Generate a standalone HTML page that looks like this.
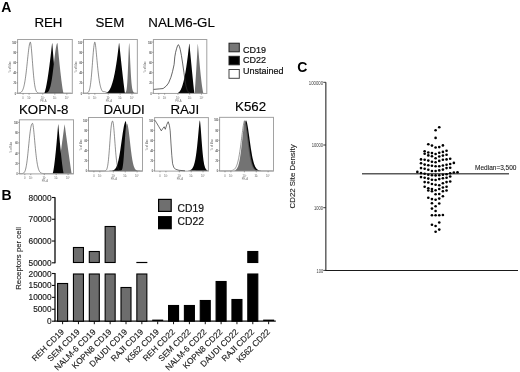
<!DOCTYPE html>
<html><head><meta charset="utf-8"><style>
html,body{margin:0;padding:0;background:#fff;width:520px;height:372px;overflow:hidden}
svg{display:block;font-family:"Liberation Sans", sans-serif;will-change:transform;filter:blur(0.3px)}
</style></head><body>
<svg width="520" height="372" viewBox="0 0 520 372">
<rect width="520" height="372" fill="#fff"/>
<g>
<path d="M18.10,93.15 L18.10,93.15 L18.35,93.15 L18.60,93.15 L18.85,93.15 L19.10,93.15 L19.35,93.15 L19.60,93.15 L19.85,93.15 L20.10,93.15 L20.35,93.15 L20.60,93.15 L20.85,93.15 L21.10,93.15 L21.35,93.15 L21.60,93.15 L21.85,93.15 L22.10,93.15 L22.35,93.15 L22.60,93.15 L22.85,93.15 L23.10,93.15 L23.35,93.15 L23.60,93.15 L23.85,93.15 L24.10,93.15 L24.35,93.15 L24.60,93.15 L24.85,93.15 L25.10,93.15 L25.35,93.15 L25.60,93.15 L25.85,93.15 L26.10,93.15 L26.35,93.15 L26.60,93.15 L26.85,93.15 L27.10,93.15 L27.35,93.15 L27.60,93.15 L27.85,93.15 L28.10,93.15 L28.35,93.15 L28.60,93.15 L28.85,93.15 L29.10,93.15 L29.35,93.15 L29.60,93.15 L29.85,93.15 L30.10,93.15 L30.35,93.15 L30.60,93.15 L30.85,93.15 L31.10,93.15 L31.35,93.15 L31.60,93.15 L31.85,93.15 L32.10,93.15 L32.35,93.15 L32.60,93.15 L32.85,93.15 L33.10,93.15 L33.35,93.15 L33.60,93.15 L33.85,93.15 L34.10,93.15 L34.35,93.15 L34.60,93.15 L34.85,93.15 L35.10,93.15 L35.35,93.15 L35.60,93.15 L35.85,93.15 L36.10,93.15 L36.35,93.15 L36.60,93.15 L36.85,93.15 L37.10,93.15 L37.35,93.15 L37.60,93.15 L37.85,93.15 L38.10,93.15 L38.35,93.15 L38.60,93.15 L38.85,93.15 L39.10,93.15 L39.35,93.15 L39.60,93.15 L39.85,93.15 L40.10,93.15 L40.35,93.15 L40.60,93.15 L40.85,93.15 L41.10,93.15 L41.35,93.15 L41.60,93.15 L41.85,93.15 L42.10,93.15 L42.35,93.15 L42.60,93.15 L42.85,93.15 L43.10,93.15 L43.35,93.15 L43.60,93.15 L43.85,93.15 L44.10,93.15 L44.35,92.99 L44.60,92.49 L44.85,91.81 L45.10,91.00 L45.35,90.08 L45.60,89.07 L45.85,87.98 L46.10,86.80 L46.35,85.55 L46.60,84.24 L46.85,82.86 L47.10,81.43 L47.35,79.94 L47.60,78.39 L47.85,76.79 L48.10,75.14 L48.35,73.44 L48.60,71.70 L48.85,69.91 L49.10,68.07 L49.35,66.20 L49.60,64.28 L49.85,62.32 L50.10,60.32 L50.35,58.29 L50.60,56.21 L50.85,54.10 L51.10,51.95 L51.35,49.77 L51.60,47.56 L51.85,45.31 L52.10,43.02 L52.35,44.08 L52.60,47.34 L52.85,50.55 L53.10,53.71 L53.35,56.81 L53.60,59.84 L53.85,62.82 L54.10,65.73 L54.35,68.57 L54.60,71.33 L54.85,74.02 L55.10,76.62 L55.35,79.13 L55.60,81.54 L55.85,83.84 L56.10,86.02 L56.35,88.05 L56.60,89.91 L56.85,91.54 L57.10,92.83 L57.35,93.15 L57.60,93.15 L57.85,93.15 L58.10,93.15 L58.35,93.15 L58.60,93.15 L58.85,93.15 L59.10,93.15 L59.35,93.15 L59.60,93.15 L59.85,93.15 L60.10,93.15 L60.35,93.15 L60.60,93.15 L60.85,93.15 L61.10,93.15 L61.35,93.15 L61.60,93.15 L61.85,93.15 L62.10,93.15 L62.35,93.15 L62.60,93.15 L62.85,93.15 L63.10,93.15 L63.35,93.15 L63.60,93.15 L63.85,93.15 L64.10,93.15 L64.35,93.15 L64.60,93.15 L64.85,93.15 L65.10,93.15 L65.35,93.15 L65.60,93.15 L65.85,93.15 L66.10,93.15 L66.35,93.15 L66.60,93.15 L66.85,93.15 L67.10,93.15 L67.35,93.15 L67.60,93.15 L67.85,93.15 L68.10,93.15 L68.35,93.15 L68.60,93.15 L68.85,93.15 L69.10,93.15 L69.35,93.15 L69.60,93.15 L69.85,93.15 L70.10,93.15 L70.35,93.15 L70.60,93.15 L70.85,93.15 L71.10,93.15 L71.35,93.15 L71.60,93.15 L71.60,93.15 Z" fill="#050505" stroke="none" stroke-width="0"/>
<path d="M18.10,93.15 L18.10,93.15 L18.35,93.15 L18.60,93.15 L18.85,93.15 L19.10,93.15 L19.35,93.15 L19.60,93.15 L19.85,93.15 L20.10,93.15 L20.35,93.15 L20.60,93.15 L20.85,93.15 L21.10,93.15 L21.35,93.15 L21.60,93.15 L21.85,93.15 L22.10,93.15 L22.35,93.15 L22.60,93.15 L22.85,93.15 L23.10,93.15 L23.35,93.15 L23.60,93.15 L23.85,93.15 L24.10,93.15 L24.35,93.15 L24.60,93.15 L24.85,93.15 L25.10,93.15 L25.35,93.15 L25.60,93.15 L25.85,93.15 L26.10,93.15 L26.35,93.15 L26.60,93.15 L26.85,93.15 L27.10,93.15 L27.35,93.15 L27.60,93.15 L27.85,93.15 L28.10,93.15 L28.35,93.15 L28.60,93.15 L28.85,93.15 L29.10,93.15 L29.35,93.15 L29.60,93.15 L29.85,93.15 L30.10,93.15 L30.35,93.15 L30.60,93.15 L30.85,93.15 L31.10,93.15 L31.35,93.15 L31.60,93.15 L31.85,93.15 L32.10,93.15 L32.35,93.15 L32.60,93.15 L32.85,93.15 L33.10,93.15 L33.35,93.15 L33.60,93.15 L33.85,93.15 L34.10,93.15 L34.35,93.15 L34.60,93.15 L34.85,93.15 L35.10,93.15 L35.35,93.15 L35.60,93.15 L35.85,93.15 L36.10,93.15 L36.35,93.15 L36.60,93.15 L36.85,93.15 L37.10,93.15 L37.35,93.15 L37.60,93.15 L37.85,93.15 L38.10,93.15 L38.35,93.15 L38.60,93.15 L38.85,93.15 L39.10,93.15 L39.35,93.15 L39.60,93.15 L39.85,93.15 L40.10,93.15 L40.35,93.15 L40.60,93.15 L40.85,93.15 L41.10,93.15 L41.35,93.15 L41.60,93.15 L41.85,93.15 L42.10,93.15 L42.35,93.14 L42.60,93.14 L42.85,93.14 L43.10,93.14 L43.35,93.13 L43.60,93.13 L43.85,93.12 L44.10,93.11 L44.35,93.10 L44.60,93.09 L44.85,93.07 L45.10,93.04 L45.35,93.01 L45.60,92.98 L45.85,92.93 L46.10,92.87 L46.35,92.80 L46.60,92.72 L46.85,92.61 L47.10,92.49 L47.35,92.33 L47.60,92.15 L47.85,91.94 L48.10,91.68 L48.35,91.38 L48.60,91.03 L48.85,90.63 L49.10,90.16 L49.35,89.62 L49.60,89.01 L49.85,88.31 L50.10,87.52 L50.35,86.64 L50.60,85.66 L50.85,84.58 L51.10,83.38 L51.35,82.07 L51.60,80.66 L51.85,79.13 L52.10,77.49 L52.35,75.74 L52.60,73.90 L52.85,71.98 L53.10,69.97 L53.35,67.90 L53.60,65.78 L53.85,63.64 L54.10,61.48 L54.35,59.34 L54.60,57.23 L54.85,55.18 L55.10,53.21 L55.35,51.35 L55.60,49.63 L55.85,48.05 L56.10,46.66 L56.35,45.46 L56.60,44.47 L56.85,43.71 L57.10,43.19 L57.35,42.91 L57.60,43.95 L57.85,46.65 L58.10,49.30 L58.35,51.92 L58.60,54.51 L58.85,57.05 L59.10,59.55 L59.35,62.01 L59.60,64.43 L59.85,66.80 L60.10,69.12 L60.35,71.39 L60.60,73.61 L60.85,75.77 L61.10,77.87 L61.35,79.91 L61.60,81.87 L61.85,83.76 L62.10,85.57 L62.35,87.28 L62.60,88.88 L62.85,90.35 L63.10,91.66 L63.35,92.73 L63.60,93.15 L63.85,93.15 L64.10,93.15 L64.35,93.15 L64.60,93.15 L64.85,93.15 L65.10,93.15 L65.35,93.15 L65.60,93.15 L65.85,93.15 L66.10,93.15 L66.35,93.15 L66.60,93.15 L66.85,93.15 L67.10,93.15 L67.35,93.15 L67.60,93.15 L67.85,93.15 L68.10,93.15 L68.35,93.15 L68.60,93.15 L68.85,93.15 L69.10,93.15 L69.35,93.15 L69.60,93.15 L69.85,93.15 L70.10,93.15 L70.35,93.15 L70.60,93.15 L70.85,93.15 L71.10,93.15 L71.35,93.15 L71.60,93.15 L71.60,93.15 Z" fill="#737373" stroke="none" stroke-width="0"/>
<path d="M18.10,93.09 L18.35,93.07 L18.60,93.05 L18.85,93.02 L19.10,92.98 L19.35,92.94 L19.60,92.89 L19.85,92.82 L20.10,92.74 L20.35,92.64 L20.60,92.52 L20.85,92.37 L21.10,92.19 L21.35,91.98 L21.60,91.73 L21.85,91.44 L22.10,91.09 L22.35,90.69 L22.60,90.21 L22.85,89.67 L23.10,89.04 L23.35,88.33 L23.60,87.52 L23.85,86.61 L24.10,85.58 L24.35,84.44 L24.60,83.17 L24.85,81.78 L25.10,80.26 L25.35,78.60 L25.60,76.83 L25.85,74.92 L26.10,72.91 L26.35,70.78 L26.60,68.56 L26.85,66.27 L27.10,63.92 L27.35,61.54 L27.60,59.16 L27.85,56.79 L28.10,54.48 L28.35,52.26 L28.60,50.17 L28.85,48.23 L29.10,46.49 L29.35,44.99 L29.60,43.76 L29.85,42.84 L30.10,42.26 L30.35,42.12 L30.60,42.73 L30.85,44.03 L31.10,45.89 L31.35,48.24 L31.60,50.96 L31.85,53.96 L32.10,57.14 L32.35,60.42 L32.60,63.71 L32.85,66.95 L33.10,70.07 L33.35,73.02 L33.60,75.77 L33.85,78.29 L34.10,80.57 L34.35,82.61 L34.60,84.39 L34.85,85.95 L35.10,87.28 L35.35,88.41 L35.60,89.36 L35.85,90.15 L36.10,90.79 L36.35,91.32 L36.60,91.74 L36.85,92.07 L37.10,92.33 L37.35,92.54 L37.60,92.69 L37.85,92.81 L38.10,92.90 L38.35,92.97 L38.60,93.02 L38.85,93.06 L39.10,93.09 L39.35,93.11 L39.60,93.12 L39.85,93.13 L40.10,93.14 L40.35,93.14 L40.60,93.14 L40.85,93.15 L41.10,93.15 L41.35,93.15 L41.60,93.15 L41.85,93.15 L42.10,93.15 L42.35,93.15 L42.60,93.15 L42.85,93.15 L43.10,93.15 L43.35,93.15 L43.60,93.15 L43.85,93.15 L44.10,93.15 L44.35,93.15 L44.60,93.15 L44.85,93.15 L45.10,93.15 L45.35,93.15 L45.60,93.15 L45.85,93.15 L46.10,93.15 L46.35,93.15 L46.60,93.15 L46.85,93.15 L47.10,93.15 L47.35,93.15 L47.60,93.15 L47.85,93.15 L48.10,93.15 L48.35,93.15 L48.60,93.15 L48.85,93.15 L49.10,93.15 L49.35,93.15 L49.60,93.15 L49.85,93.15 L50.10,93.15 L50.35,93.15 L50.60,93.15 L50.85,93.15 L51.10,93.15 L51.35,93.15 L51.60,93.15 L51.85,93.15 L52.10,93.15 L52.35,93.15 L52.60,93.15 L52.85,93.15 L53.10,93.15 L53.35,93.15 L53.60,93.15 L53.85,93.15 L54.10,93.15 L54.35,93.15 L54.60,93.15 L54.85,93.15 L55.10,93.15 L55.35,93.15 L55.60,93.15 L55.85,93.15 L56.10,93.15 L56.35,93.15 L56.60,93.15 L56.85,93.15 L57.10,93.15 L57.35,93.15 L57.60,93.15 L57.85,93.15 L58.10,93.15 L58.35,93.15 L58.60,93.15 L58.85,93.15 L59.10,93.15 L59.35,93.15 L59.60,93.15 L59.85,93.15 L60.10,93.15 L60.35,93.15 L60.60,93.15 L60.85,93.15 L61.10,93.15 L61.35,93.15 L61.60,93.15 L61.85,93.15 L62.10,93.15 L62.35,93.15 L62.60,93.15 L62.85,93.15 L63.10,93.15 L63.35,93.15 L63.60,93.15 L63.85,93.15 L64.10,93.15 L64.35,93.15 L64.60,93.15 L64.85,93.15 L65.10,93.15 L65.35,93.15 L65.60,93.15 L65.85,93.15 L66.10,93.15 L66.35,93.15 L66.60,93.15 L66.85,93.15 L67.10,93.15 L67.35,93.15 L67.60,93.15 L67.85,93.15 L68.10,93.15 L68.35,93.15 L68.60,93.15 L68.85,93.15 L69.10,93.15 L69.35,93.15 L69.60,93.15 L69.85,93.15 L70.10,93.15 L70.35,93.15 L70.60,93.15 L70.85,93.15 L71.10,93.15 L71.35,93.15 L71.60,93.15" fill="none" stroke="#333333" stroke-width="0.55" stroke-linejoin="round"/>
<rect x="17.60" y="39.50" width="54.70" height="53.95" fill="none" stroke="#a2a2a2" stroke-width="1"/>
<line x1="16.30" y1="93.15" x2="17.60" y2="93.15" stroke="#666" stroke-width="0.6"/>
<text x="16.10" y="94.65" font-size="2.7" fill="#555" stroke="#555" stroke-width="0.08" text-anchor="end" textLength="1.3" lengthAdjust="spacingAndGlyphs">0</text>
<line x1="16.30" y1="82.94" x2="17.60" y2="82.94" stroke="#666" stroke-width="0.6"/>
<text x="16.10" y="84.44" font-size="2.7" fill="#555" stroke="#555" stroke-width="0.08" text-anchor="end" textLength="2.6" lengthAdjust="spacingAndGlyphs">20</text>
<line x1="16.30" y1="72.73" x2="17.60" y2="72.73" stroke="#666" stroke-width="0.6"/>
<text x="16.10" y="74.23" font-size="2.7" fill="#555" stroke="#555" stroke-width="0.08" text-anchor="end" textLength="2.6" lengthAdjust="spacingAndGlyphs">40</text>
<line x1="16.30" y1="62.52" x2="17.60" y2="62.52" stroke="#666" stroke-width="0.6"/>
<text x="16.10" y="64.02" font-size="2.7" fill="#555" stroke="#555" stroke-width="0.08" text-anchor="end" textLength="2.6" lengthAdjust="spacingAndGlyphs">60</text>
<line x1="16.30" y1="52.31" x2="17.60" y2="52.31" stroke="#666" stroke-width="0.6"/>
<text x="16.10" y="53.81" font-size="2.7" fill="#555" stroke="#555" stroke-width="0.08" text-anchor="end" textLength="2.6" lengthAdjust="spacingAndGlyphs">80</text>
<line x1="16.30" y1="42.10" x2="17.60" y2="42.10" stroke="#666" stroke-width="0.6"/>
<text x="16.10" y="43.60" font-size="2.7" fill="#555" stroke="#555" stroke-width="0.08" text-anchor="end" textLength="3.9" lengthAdjust="spacingAndGlyphs">100</text>
<text transform="translate(10.60,66.97) rotate(-90)" font-size="2.6" fill="#555" text-anchor="middle">% of Max</text>
<line x1="23.07" y1="93.45" x2="23.07" y2="94.65" stroke="#666" stroke-width="0.6"/>
<text x="23.07" y="98.85" font-size="2.6" fill="#666" text-anchor="middle">0</text>
<line x1="29.09" y1="93.45" x2="29.09" y2="94.65" stroke="#666" stroke-width="0.6"/>
<text x="29.09" y="98.85" font-size="2.6" fill="#666" text-anchor="middle">10¹</text>
<line x1="42.76" y1="93.45" x2="42.76" y2="94.65" stroke="#666" stroke-width="0.6"/>
<text x="42.76" y="98.85" font-size="2.6" fill="#666" text-anchor="middle">10²</text>
<line x1="54.80" y1="93.45" x2="54.80" y2="94.65" stroke="#666" stroke-width="0.6"/>
<text x="54.80" y="98.85" font-size="2.6" fill="#666" text-anchor="middle">10³</text>
<line x1="66.83" y1="93.45" x2="66.83" y2="94.65" stroke="#666" stroke-width="0.6"/>
<text x="66.83" y="98.85" font-size="2.6" fill="#666" text-anchor="middle">10⁴</text>
<text x="43.31" y="101.95" font-size="2.7" fill="#777" text-anchor="middle">PE-A</text>
</g>
<g>
<path d="M84.00,93.15 L84.00,93.15 L84.25,93.15 L84.50,93.15 L84.75,93.15 L85.00,93.15 L85.25,93.15 L85.50,93.15 L85.75,93.15 L86.00,93.15 L86.25,93.15 L86.50,93.15 L86.75,93.15 L87.00,93.15 L87.25,93.15 L87.50,93.15 L87.75,93.15 L88.00,93.15 L88.25,93.15 L88.50,93.15 L88.75,93.15 L89.00,93.15 L89.25,93.15 L89.50,93.15 L89.75,93.15 L90.00,93.15 L90.25,93.15 L90.50,93.15 L90.75,93.15 L91.00,93.15 L91.25,93.15 L91.50,93.15 L91.75,93.15 L92.00,93.15 L92.25,93.15 L92.50,93.15 L92.75,93.15 L93.00,93.15 L93.25,93.15 L93.50,93.15 L93.75,93.15 L94.00,93.15 L94.25,93.15 L94.50,93.15 L94.75,93.15 L95.00,93.15 L95.25,93.15 L95.50,93.15 L95.75,93.15 L96.00,93.15 L96.25,93.15 L96.50,93.15 L96.75,93.15 L97.00,93.15 L97.25,93.15 L97.50,93.15 L97.75,93.15 L98.00,93.15 L98.25,93.15 L98.50,93.15 L98.75,93.15 L99.00,93.15 L99.25,93.15 L99.50,93.15 L99.75,93.15 L100.00,93.15 L100.25,93.15 L100.50,93.15 L100.75,93.15 L101.00,93.15 L101.25,93.15 L101.50,93.15 L101.75,93.15 L102.00,93.15 L102.25,93.15 L102.50,93.15 L102.75,93.15 L103.00,93.15 L103.25,93.15 L103.50,93.15 L103.75,93.15 L104.00,93.15 L104.25,93.15 L104.50,93.15 L104.75,93.14 L105.00,93.12 L105.25,93.10 L105.50,93.07 L105.75,93.02 L106.00,92.96 L106.25,92.88 L106.50,92.79 L106.75,92.68 L107.00,92.55 L107.25,92.39 L107.50,92.22 L107.75,92.03 L108.00,91.81 L108.25,91.56 L108.50,91.29 L108.75,90.99 L109.00,90.66 L109.25,90.30 L109.50,89.91 L109.75,89.49 L110.00,89.04 L110.25,88.55 L110.50,88.03 L110.75,87.47 L111.00,86.88 L111.25,86.24 L111.50,85.57 L111.75,84.86 L112.00,84.11 L112.25,83.32 L112.50,82.48 L112.75,81.60 L113.00,80.68 L113.25,79.71 L113.50,78.70 L113.75,77.63 L114.00,76.52 L114.25,75.37 L114.50,74.16 L114.75,72.90 L115.00,71.59 L115.25,70.23 L115.50,68.82 L115.75,67.35 L116.00,65.83 L116.25,64.25 L116.50,62.62 L116.75,60.92 L117.00,59.18 L117.25,57.37 L117.50,55.50 L117.75,53.58 L118.00,51.59 L118.25,49.54 L118.50,47.43 L118.75,45.25 L119.00,43.01 L119.25,43.55 L119.50,45.96 L119.75,48.36 L120.00,50.74 L120.25,53.12 L120.50,55.48 L120.75,57.83 L121.00,60.16 L121.25,62.48 L121.50,64.78 L121.75,67.07 L122.00,69.33 L122.25,71.58 L122.50,73.81 L122.75,76.01 L123.00,78.19 L123.25,80.34 L123.50,82.46 L123.75,84.54 L124.00,86.58 L124.25,88.55 L124.50,90.46 L124.75,92.23 L125.00,93.15 L125.25,93.15 L125.50,93.15 L125.75,93.15 L126.00,93.15 L126.25,93.15 L126.50,93.15 L126.75,93.15 L127.00,93.15 L127.25,93.15 L127.50,93.15 L127.75,93.15 L128.00,93.15 L128.25,93.15 L128.50,93.15 L128.75,93.15 L129.00,93.15 L129.25,93.15 L129.50,93.15 L129.75,93.15 L130.00,93.15 L130.25,93.15 L130.50,93.15 L130.75,93.15 L131.00,93.15 L131.25,93.15 L131.50,93.15 L131.75,93.15 L132.00,93.15 L132.25,93.15 L132.50,93.15 L132.75,93.15 L133.00,93.15 L133.25,93.15 L133.50,93.15 L133.75,93.15 L134.00,93.15 L134.25,93.15 L134.50,93.15 L134.75,93.15 L135.00,93.15 L135.25,93.15 L135.50,93.15 L135.75,93.15 L136.00,93.15 L136.25,93.15 L136.50,93.15 L136.75,93.15 L136.75,93.15 Z" fill="#050505" stroke="none" stroke-width="0"/>
<path d="M84.00,93.15 L84.00,93.15 L84.25,93.15 L84.50,93.15 L84.75,93.15 L85.00,93.15 L85.25,93.15 L85.50,93.15 L85.75,93.15 L86.00,93.15 L86.25,93.15 L86.50,93.15 L86.75,93.15 L87.00,93.15 L87.25,93.15 L87.50,93.15 L87.75,93.15 L88.00,93.15 L88.25,93.15 L88.50,93.15 L88.75,93.15 L89.00,93.15 L89.25,93.15 L89.50,93.15 L89.75,93.15 L90.00,93.15 L90.25,93.15 L90.50,93.15 L90.75,93.15 L91.00,93.15 L91.25,93.15 L91.50,93.15 L91.75,93.15 L92.00,93.15 L92.25,93.15 L92.50,93.15 L92.75,93.15 L93.00,93.15 L93.25,93.15 L93.50,93.15 L93.75,93.15 L94.00,93.15 L94.25,93.15 L94.50,93.15 L94.75,93.15 L95.00,93.15 L95.25,93.15 L95.50,93.15 L95.75,93.15 L96.00,93.15 L96.25,93.15 L96.50,93.15 L96.75,93.15 L97.00,93.15 L97.25,93.15 L97.50,93.15 L97.75,93.15 L98.00,93.15 L98.25,93.15 L98.50,93.15 L98.75,93.15 L99.00,93.15 L99.25,93.15 L99.50,93.15 L99.75,93.15 L100.00,93.15 L100.25,93.15 L100.50,93.15 L100.75,93.15 L101.00,93.15 L101.25,93.15 L101.50,93.15 L101.75,93.15 L102.00,93.15 L102.25,93.15 L102.50,93.15 L102.75,93.15 L103.00,93.15 L103.25,93.15 L103.50,93.15 L103.75,93.15 L104.00,93.15 L104.25,93.15 L104.50,93.15 L104.75,93.15 L105.00,93.15 L105.25,93.15 L105.50,93.15 L105.75,93.15 L106.00,93.15 L106.25,93.15 L106.50,93.15 L106.75,93.15 L107.00,93.15 L107.25,93.15 L107.50,93.15 L107.75,93.15 L108.00,93.15 L108.25,93.15 L108.50,93.15 L108.75,93.15 L109.00,93.15 L109.25,93.15 L109.50,93.15 L109.75,93.15 L110.00,93.15 L110.25,93.15 L110.50,93.15 L110.75,93.15 L111.00,93.15 L111.25,93.15 L111.50,93.15 L111.75,93.15 L112.00,93.15 L112.25,93.15 L112.50,93.15 L112.75,93.15 L113.00,93.15 L113.25,93.15 L113.50,93.15 L113.75,93.15 L114.00,93.15 L114.25,93.15 L114.50,93.15 L114.75,93.15 L115.00,93.15 L115.25,93.15 L115.50,93.15 L115.75,93.15 L116.00,93.15 L116.25,93.15 L116.50,93.15 L116.75,93.15 L117.00,93.15 L117.25,93.15 L117.50,93.15 L117.75,93.15 L118.00,93.15 L118.25,93.15 L118.50,93.15 L118.75,93.15 L119.00,93.15 L119.25,93.15 L119.50,93.15 L119.75,93.15 L120.00,93.15 L120.25,93.15 L120.50,93.15 L120.75,93.15 L121.00,93.15 L121.25,93.15 L121.50,93.15 L121.75,93.15 L122.00,93.15 L122.25,93.15 L122.50,93.15 L122.75,93.15 L123.00,93.15 L123.25,93.15 L123.50,93.15 L123.75,93.14 L124.00,93.14 L124.25,93.13 L124.50,93.11 L124.75,93.07 L125.00,93.00 L125.25,92.88 L125.50,92.69 L125.75,92.37 L126.00,91.86 L126.25,91.08 L126.50,89.91 L126.75,88.23 L127.00,85.88 L127.25,82.74 L127.50,78.69 L127.75,73.70 L128.00,67.85 L128.25,61.41 L128.50,54.83 L128.75,48.80 L129.00,44.25 L129.25,42.90 L129.50,46.50 L129.75,51.58 L130.00,57.14 L130.25,62.67 L130.50,67.85 L130.75,72.52 L131.00,76.60 L131.25,80.07 L131.50,82.95 L131.75,85.31 L132.00,87.19 L132.25,88.67 L132.50,89.83 L132.75,90.71 L133.00,91.37 L133.25,91.87 L133.50,92.24 L133.75,92.51 L134.00,92.70 L134.25,92.84 L134.50,92.94 L134.75,93.00 L135.00,93.05 L135.25,93.08 L135.50,93.11 L135.75,93.12 L136.00,93.13 L136.25,93.14 L136.50,93.14 L136.75,93.14 L136.75,93.15 Z" fill="#737373" stroke="none" stroke-width="0"/>
<path d="M84.00,93.15 L84.25,93.15 L84.50,93.15 L84.75,93.15 L85.00,93.14 L85.25,93.14 L85.50,93.14 L85.75,93.13 L86.00,93.12 L86.25,93.10 L86.50,93.08 L86.75,93.05 L87.00,93.00 L87.25,92.93 L87.50,92.83 L87.75,92.70 L88.00,92.52 L88.25,92.29 L88.50,91.97 L88.75,91.57 L89.00,91.05 L89.25,90.40 L89.50,89.58 L89.75,88.59 L90.00,87.38 L90.25,85.95 L90.50,84.27 L90.75,82.33 L91.00,80.12 L91.25,77.65 L91.50,74.94 L91.75,72.01 L92.00,68.89 L92.25,65.65 L92.50,62.33 L92.75,59.03 L93.00,55.81 L93.25,52.76 L93.50,49.96 L93.75,47.50 L94.00,45.44 L94.25,43.84 L94.50,42.75 L94.75,42.19 L95.00,42.29 L95.25,43.44 L95.50,45.16 L95.75,47.28 L96.00,49.66 L96.25,52.23 L96.50,54.90 L96.75,57.63 L97.00,60.35 L97.25,63.04 L97.50,65.65 L97.75,68.17 L98.00,70.56 L98.25,72.83 L98.50,74.95 L98.75,76.92 L99.00,78.74 L99.25,80.41 L99.50,81.93 L99.75,83.31 L100.00,84.56 L100.25,85.67 L100.50,86.67 L100.75,87.55 L101.00,88.33 L101.25,89.02 L101.50,89.62 L101.75,90.14 L102.00,90.60 L102.25,90.99 L102.50,91.33 L102.75,91.62 L103.00,91.78 L103.25,91.71 L103.50,91.66 L103.75,91.63 L104.00,91.62 L104.25,91.63 L104.50,91.66 L104.75,91.71 L105.00,91.78 L105.25,91.86 L105.50,91.96 L105.75,92.06 L106.00,92.17 L106.25,92.28 L106.50,92.39 L106.75,92.49 L107.00,92.59 L107.25,92.68 L107.50,92.76 L107.75,92.83 L108.00,92.89 L108.25,92.94 L108.50,92.99 L108.75,93.03 L109.00,93.05 L109.25,93.08 L109.50,93.10 L109.75,93.11 L110.00,93.12 L110.25,93.13 L110.50,93.14 L110.75,93.14 L111.00,93.14 L111.25,93.15 L111.50,93.15 L111.75,93.15 L112.00,93.15 L112.25,93.15 L112.50,93.15 L112.75,93.15 L113.00,93.15 L113.25,93.15 L113.50,93.15 L113.75,93.15 L114.00,93.15 L114.25,93.15 L114.50,93.15 L114.75,93.15 L115.00,93.15 L115.25,93.15 L115.50,93.15 L115.75,93.15 L116.00,93.15 L116.25,93.15 L116.50,93.15 L116.75,93.15 L117.00,93.15 L117.25,93.15 L117.50,93.15 L117.75,93.15 L118.00,93.15 L118.25,93.15 L118.50,93.15 L118.75,93.15 L119.00,93.15 L119.25,93.15 L119.50,93.15 L119.75,93.15 L120.00,93.15 L120.25,93.15 L120.50,93.15 L120.75,93.15 L121.00,93.15 L121.25,93.15 L121.50,93.15 L121.75,93.15 L122.00,93.15 L122.25,93.15 L122.50,93.15 L122.75,93.15 L123.00,93.15 L123.25,93.15 L123.50,93.15 L123.75,93.15 L124.00,93.15 L124.25,93.15 L124.50,93.15 L124.75,93.15 L125.00,93.15 L125.25,93.15 L125.50,93.15 L125.75,93.15 L126.00,93.15 L126.25,93.15 L126.50,93.15 L126.75,93.15 L127.00,93.15 L127.25,93.15 L127.50,93.15 L127.75,93.15 L128.00,93.15 L128.25,93.15 L128.50,93.15 L128.75,93.15 L129.00,93.15 L129.25,93.15 L129.50,93.15 L129.75,93.15 L130.00,93.15 L130.25,93.15 L130.50,93.15 L130.75,93.15 L131.00,93.15 L131.25,93.15 L131.50,93.15 L131.75,93.15 L132.00,93.15 L132.25,93.15 L132.50,93.15 L132.75,93.15 L133.00,93.15 L133.25,93.15 L133.50,93.15 L133.75,93.15 L134.00,93.15 L134.25,93.15 L134.50,93.15 L134.75,93.15 L135.00,93.15 L135.25,93.15 L135.50,93.15 L135.75,93.15 L136.00,93.15 L136.25,93.15 L136.50,93.15 L136.75,93.15" fill="none" stroke="#333333" stroke-width="0.55" stroke-linejoin="round"/>
<rect x="83.50" y="39.50" width="53.85" height="53.95" fill="none" stroke="#a2a2a2" stroke-width="1"/>
<line x1="82.20" y1="93.15" x2="83.50" y2="93.15" stroke="#666" stroke-width="0.6"/>
<text x="82.00" y="94.65" font-size="2.7" fill="#555" stroke="#555" stroke-width="0.08" text-anchor="end" textLength="1.3" lengthAdjust="spacingAndGlyphs">0</text>
<line x1="82.20" y1="82.94" x2="83.50" y2="82.94" stroke="#666" stroke-width="0.6"/>
<text x="82.00" y="84.44" font-size="2.7" fill="#555" stroke="#555" stroke-width="0.08" text-anchor="end" textLength="2.6" lengthAdjust="spacingAndGlyphs">20</text>
<line x1="82.20" y1="72.73" x2="83.50" y2="72.73" stroke="#666" stroke-width="0.6"/>
<text x="82.00" y="74.23" font-size="2.7" fill="#555" stroke="#555" stroke-width="0.08" text-anchor="end" textLength="2.6" lengthAdjust="spacingAndGlyphs">40</text>
<line x1="82.20" y1="62.52" x2="83.50" y2="62.52" stroke="#666" stroke-width="0.6"/>
<text x="82.00" y="64.02" font-size="2.7" fill="#555" stroke="#555" stroke-width="0.08" text-anchor="end" textLength="2.6" lengthAdjust="spacingAndGlyphs">60</text>
<line x1="82.20" y1="52.31" x2="83.50" y2="52.31" stroke="#666" stroke-width="0.6"/>
<text x="82.00" y="53.81" font-size="2.7" fill="#555" stroke="#555" stroke-width="0.08" text-anchor="end" textLength="2.6" lengthAdjust="spacingAndGlyphs">80</text>
<line x1="82.20" y1="42.10" x2="83.50" y2="42.10" stroke="#666" stroke-width="0.6"/>
<text x="82.00" y="43.60" font-size="2.7" fill="#555" stroke="#555" stroke-width="0.08" text-anchor="end" textLength="3.9" lengthAdjust="spacingAndGlyphs">100</text>
<text transform="translate(76.50,66.97) rotate(-90)" font-size="2.6" fill="#555" text-anchor="middle">% of Max</text>
<line x1="88.89" y1="93.45" x2="88.89" y2="94.65" stroke="#666" stroke-width="0.6"/>
<text x="88.89" y="98.85" font-size="2.6" fill="#666" text-anchor="middle">0</text>
<line x1="94.81" y1="93.45" x2="94.81" y2="94.65" stroke="#666" stroke-width="0.6"/>
<text x="94.81" y="98.85" font-size="2.6" fill="#666" text-anchor="middle">10¹</text>
<line x1="108.27" y1="93.45" x2="108.27" y2="94.65" stroke="#666" stroke-width="0.6"/>
<text x="108.27" y="98.85" font-size="2.6" fill="#666" text-anchor="middle">10²</text>
<line x1="120.12" y1="93.45" x2="120.12" y2="94.65" stroke="#666" stroke-width="0.6"/>
<text x="120.12" y="98.85" font-size="2.6" fill="#666" text-anchor="middle">10³</text>
<line x1="131.97" y1="93.45" x2="131.97" y2="94.65" stroke="#666" stroke-width="0.6"/>
<text x="131.97" y="98.85" font-size="2.6" fill="#666" text-anchor="middle">10⁴</text>
<text x="108.81" y="101.95" font-size="2.7" fill="#777" text-anchor="middle">PE-A</text>
</g>
<g>
<path d="M153.90,93.15 L153.90,93.15 L154.15,93.15 L154.40,93.15 L154.65,93.15 L154.90,93.15 L155.15,93.15 L155.40,93.15 L155.65,93.15 L155.90,93.15 L156.15,93.15 L156.40,93.15 L156.65,93.15 L156.90,93.15 L157.15,93.15 L157.40,93.15 L157.65,93.15 L157.90,93.15 L158.15,93.15 L158.40,93.15 L158.65,93.15 L158.90,93.15 L159.15,93.15 L159.40,93.15 L159.65,93.15 L159.90,93.15 L160.15,93.15 L160.40,93.15 L160.65,93.15 L160.90,93.15 L161.15,93.15 L161.40,93.15 L161.65,93.15 L161.90,93.15 L162.15,93.15 L162.40,93.15 L162.65,93.15 L162.90,93.15 L163.15,93.15 L163.40,93.15 L163.65,93.15 L163.90,93.15 L164.15,93.15 L164.40,93.15 L164.65,93.15 L164.90,93.15 L165.15,93.15 L165.40,93.15 L165.65,93.15 L165.90,93.15 L166.15,93.15 L166.40,93.15 L166.65,93.15 L166.90,93.15 L167.15,93.15 L167.40,93.15 L167.65,93.15 L167.90,93.15 L168.15,93.15 L168.40,93.15 L168.65,93.15 L168.90,93.15 L169.15,93.15 L169.40,93.15 L169.65,93.15 L169.90,93.15 L170.15,93.15 L170.40,93.15 L170.65,93.15 L170.90,93.15 L171.15,93.15 L171.40,93.15 L171.65,93.15 L171.90,93.15 L172.15,93.15 L172.40,93.15 L172.65,93.15 L172.90,93.15 L173.15,93.15 L173.40,93.15 L173.65,93.15 L173.90,93.15 L174.15,93.15 L174.40,93.15 L174.65,93.15 L174.90,93.15 L175.15,93.15 L175.40,93.15 L175.65,93.15 L175.90,93.15 L176.15,93.15 L176.40,93.15 L176.65,93.14 L176.90,93.13 L177.15,93.09 L177.40,93.04 L177.65,92.97 L177.90,92.88 L178.15,92.76 L178.40,92.62 L178.65,92.45 L178.90,92.25 L179.15,92.01 L179.40,91.75 L179.65,91.45 L179.90,91.11 L180.15,90.74 L180.40,90.33 L180.65,89.88 L180.90,89.39 L181.15,88.85 L181.40,88.28 L181.65,87.66 L181.90,86.99 L182.15,86.28 L182.40,85.53 L182.65,84.72 L182.90,83.87 L183.15,82.96 L183.40,82.01 L183.65,81.00 L183.90,79.94 L184.15,78.83 L184.40,77.66 L184.65,76.44 L184.90,75.16 L185.15,73.82 L185.40,72.43 L185.65,70.98 L185.90,69.47 L186.15,67.89 L186.40,66.26 L186.65,64.57 L186.90,62.81 L187.15,60.99 L187.40,59.10 L187.65,57.15 L187.90,55.14 L188.15,53.06 L188.40,50.91 L188.65,48.69 L188.90,46.41 L189.15,44.06 L189.40,43.68 L189.65,46.35 L189.90,49.02 L190.15,51.67 L190.40,54.31 L190.65,56.95 L190.90,59.57 L191.15,62.18 L191.40,64.78 L191.65,67.37 L191.90,69.94 L192.15,72.49 L192.40,75.03 L192.65,77.55 L192.90,80.04 L193.15,82.51 L193.40,84.94 L193.65,87.34 L193.90,89.68 L194.15,91.92 L194.40,93.15 L194.65,93.15 L194.90,93.15 L195.15,93.15 L195.40,93.15 L195.65,93.15 L195.90,93.15 L196.15,93.15 L196.40,93.15 L196.65,93.15 L196.90,93.15 L197.15,93.15 L197.40,93.15 L197.65,93.15 L197.90,93.15 L198.15,93.15 L198.40,93.15 L198.65,93.15 L198.90,93.15 L199.15,93.15 L199.40,93.15 L199.65,93.15 L199.90,93.15 L200.15,93.15 L200.40,93.15 L200.65,93.15 L200.90,93.15 L201.15,93.15 L201.40,93.15 L201.65,93.15 L201.90,93.15 L202.15,93.15 L202.40,93.15 L202.65,93.15 L202.90,93.15 L203.15,93.15 L203.40,93.15 L203.65,93.15 L203.90,93.15 L204.15,93.15 L204.40,93.15 L204.65,93.15 L204.90,93.15 L205.15,93.15 L205.40,93.15 L205.65,93.15 L205.90,93.15 L206.15,93.15 L206.15,93.15 Z" fill="#050505" stroke="none" stroke-width="0"/>
<path d="M153.90,93.15 L153.90,93.15 L154.15,93.15 L154.40,93.15 L154.65,93.15 L154.90,93.15 L155.15,93.15 L155.40,93.15 L155.65,93.15 L155.90,93.15 L156.15,93.15 L156.40,93.15 L156.65,93.15 L156.90,93.15 L157.15,93.15 L157.40,93.15 L157.65,93.15 L157.90,93.15 L158.15,93.15 L158.40,93.15 L158.65,93.15 L158.90,93.15 L159.15,93.15 L159.40,93.15 L159.65,93.15 L159.90,93.15 L160.15,93.15 L160.40,93.15 L160.65,93.15 L160.90,93.15 L161.15,93.15 L161.40,93.15 L161.65,93.15 L161.90,93.15 L162.15,93.15 L162.40,93.15 L162.65,93.15 L162.90,93.15 L163.15,93.15 L163.40,93.15 L163.65,93.15 L163.90,93.15 L164.15,93.15 L164.40,93.15 L164.65,93.15 L164.90,93.15 L165.15,93.15 L165.40,93.15 L165.65,93.15 L165.90,93.15 L166.15,93.15 L166.40,93.15 L166.65,93.15 L166.90,93.15 L167.15,93.15 L167.40,93.15 L167.65,93.15 L167.90,93.15 L168.15,93.15 L168.40,93.15 L168.65,93.15 L168.90,93.15 L169.15,93.15 L169.40,93.15 L169.65,93.15 L169.90,93.15 L170.15,93.15 L170.40,93.15 L170.65,93.15 L170.90,93.15 L171.15,93.15 L171.40,93.15 L171.65,93.15 L171.90,93.15 L172.15,93.15 L172.40,93.15 L172.65,93.15 L172.90,93.15 L173.15,93.15 L173.40,93.15 L173.65,93.15 L173.90,93.15 L174.15,93.15 L174.40,93.15 L174.65,93.15 L174.90,93.15 L175.15,93.15 L175.40,93.15 L175.65,93.15 L175.90,93.15 L176.15,93.15 L176.40,93.15 L176.65,93.15 L176.90,93.15 L177.15,93.15 L177.40,93.15 L177.65,93.15 L177.90,93.15 L178.15,93.15 L178.40,93.15 L178.65,93.15 L178.90,93.15 L179.15,93.15 L179.40,93.15 L179.65,93.15 L179.90,93.15 L180.15,93.15 L180.40,93.15 L180.65,93.15 L180.90,93.15 L181.15,93.15 L181.40,93.15 L181.65,93.15 L181.90,93.15 L182.15,93.15 L182.40,93.15 L182.65,93.15 L182.90,93.15 L183.15,93.15 L183.40,93.15 L183.65,93.15 L183.90,93.15 L184.15,93.15 L184.40,93.15 L184.65,93.15 L184.90,93.15 L185.15,93.15 L185.40,93.15 L185.65,93.15 L185.90,93.15 L186.15,93.15 L186.40,93.15 L186.65,93.15 L186.90,93.15 L187.15,93.15 L187.40,93.15 L187.65,93.15 L187.90,93.15 L188.15,93.15 L188.40,93.15 L188.65,93.15 L188.90,93.15 L189.15,93.15 L189.40,93.15 L189.65,93.15 L189.90,93.15 L190.15,93.15 L190.40,93.15 L190.65,93.15 L190.90,93.15 L191.15,93.15 L191.40,93.15 L191.65,93.15 L191.90,93.15 L192.15,93.15 L192.40,93.15 L192.65,93.15 L192.90,93.15 L193.15,93.15 L193.40,93.15 L193.65,93.15 L193.90,93.15 L194.15,93.15 L194.40,93.15 L194.65,92.73 L194.90,89.83 L195.15,86.48 L195.40,82.89 L195.65,79.12 L195.90,75.21 L196.15,71.19 L196.40,67.07 L196.65,62.87 L196.90,58.58 L197.15,54.22 L197.40,49.80 L197.65,45.33 L197.90,43.87 L198.15,46.98 L198.40,50.03 L198.65,53.01 L198.90,55.94 L199.15,58.80 L199.40,61.60 L199.65,64.32 L199.90,66.98 L200.15,69.56 L200.40,72.06 L200.65,74.48 L200.90,76.81 L201.15,79.05 L201.40,81.19 L201.65,83.23 L201.90,85.16 L202.15,86.96 L202.40,88.62 L202.65,90.12 L202.90,91.43 L203.15,92.50 L203.40,93.15 L203.65,93.15 L203.90,93.15 L204.15,93.15 L204.40,93.15 L204.65,93.15 L204.90,93.15 L205.15,93.15 L205.40,93.15 L205.65,93.15 L205.90,93.15 L206.15,93.15 L206.15,93.15 Z" fill="#737373" stroke="none" stroke-width="0"/>
<rect x="153.40" y="39.50" width="53.40" height="53.95" fill="none" stroke="#a2a2a2" stroke-width="1"/>
<line x1="152.10" y1="93.15" x2="153.40" y2="93.15" stroke="#666" stroke-width="0.6"/>
<text x="151.90" y="94.65" font-size="2.7" fill="#555" stroke="#555" stroke-width="0.08" text-anchor="end" textLength="1.3" lengthAdjust="spacingAndGlyphs">0</text>
<line x1="152.10" y1="82.94" x2="153.40" y2="82.94" stroke="#666" stroke-width="0.6"/>
<text x="151.90" y="84.44" font-size="2.7" fill="#555" stroke="#555" stroke-width="0.08" text-anchor="end" textLength="2.6" lengthAdjust="spacingAndGlyphs">20</text>
<line x1="152.10" y1="72.73" x2="153.40" y2="72.73" stroke="#666" stroke-width="0.6"/>
<text x="151.90" y="74.23" font-size="2.7" fill="#555" stroke="#555" stroke-width="0.08" text-anchor="end" textLength="2.6" lengthAdjust="spacingAndGlyphs">40</text>
<line x1="152.10" y1="62.52" x2="153.40" y2="62.52" stroke="#666" stroke-width="0.6"/>
<text x="151.90" y="64.02" font-size="2.7" fill="#555" stroke="#555" stroke-width="0.08" text-anchor="end" textLength="2.6" lengthAdjust="spacingAndGlyphs">60</text>
<line x1="152.10" y1="52.31" x2="153.40" y2="52.31" stroke="#666" stroke-width="0.6"/>
<text x="151.90" y="53.81" font-size="2.7" fill="#555" stroke="#555" stroke-width="0.08" text-anchor="end" textLength="2.6" lengthAdjust="spacingAndGlyphs">80</text>
<line x1="152.10" y1="42.10" x2="153.40" y2="42.10" stroke="#666" stroke-width="0.6"/>
<text x="151.90" y="43.60" font-size="2.7" fill="#555" stroke="#555" stroke-width="0.08" text-anchor="end" textLength="3.9" lengthAdjust="spacingAndGlyphs">100</text>
<text transform="translate(146.40,66.97) rotate(-90)" font-size="2.6" fill="#555" text-anchor="middle">% of Max</text>
<line x1="158.74" y1="93.45" x2="158.74" y2="94.65" stroke="#666" stroke-width="0.6"/>
<text x="158.74" y="98.85" font-size="2.6" fill="#666" text-anchor="middle">0</text>
<line x1="164.61" y1="93.45" x2="164.61" y2="94.65" stroke="#666" stroke-width="0.6"/>
<text x="164.61" y="98.85" font-size="2.6" fill="#666" text-anchor="middle">10¹</text>
<line x1="177.96" y1="93.45" x2="177.96" y2="94.65" stroke="#666" stroke-width="0.6"/>
<text x="177.96" y="98.85" font-size="2.6" fill="#666" text-anchor="middle">10²</text>
<line x1="189.71" y1="93.45" x2="189.71" y2="94.65" stroke="#666" stroke-width="0.6"/>
<text x="189.71" y="98.85" font-size="2.6" fill="#666" text-anchor="middle">10³</text>
<line x1="201.46" y1="93.45" x2="201.46" y2="94.65" stroke="#666" stroke-width="0.6"/>
<text x="201.46" y="98.85" font-size="2.6" fill="#666" text-anchor="middle">10⁴</text>
<text x="178.50" y="101.95" font-size="2.7" fill="#777" text-anchor="middle">PE-A</text>
</g>
<g>
<path d="M19.90,173.60 L19.90,173.60 L20.15,173.60 L20.40,173.60 L20.65,173.60 L20.90,173.60 L21.15,173.60 L21.40,173.60 L21.65,173.60 L21.90,173.60 L22.15,173.60 L22.40,173.60 L22.65,173.60 L22.90,173.60 L23.15,173.60 L23.40,173.60 L23.65,173.60 L23.90,173.60 L24.15,173.60 L24.40,173.60 L24.65,173.60 L24.90,173.60 L25.15,173.60 L25.40,173.60 L25.65,173.60 L25.90,173.60 L26.15,173.60 L26.40,173.60 L26.65,173.60 L26.90,173.60 L27.15,173.60 L27.40,173.60 L27.65,173.60 L27.90,173.60 L28.15,173.60 L28.40,173.60 L28.65,173.60 L28.90,173.60 L29.15,173.60 L29.40,173.60 L29.65,173.60 L29.90,173.60 L30.15,173.60 L30.40,173.60 L30.65,173.60 L30.90,173.60 L31.15,173.60 L31.40,173.60 L31.65,173.60 L31.90,173.60 L32.15,173.60 L32.40,173.60 L32.65,173.60 L32.90,173.60 L33.15,173.60 L33.40,173.60 L33.65,173.60 L33.90,173.60 L34.15,173.60 L34.40,173.60 L34.65,173.60 L34.90,173.60 L35.15,173.60 L35.40,173.60 L35.65,173.60 L35.90,173.60 L36.15,173.60 L36.40,173.60 L36.65,173.60 L36.90,173.60 L37.15,173.60 L37.40,173.60 L37.65,173.60 L37.90,173.60 L38.15,173.60 L38.40,173.60 L38.65,173.60 L38.90,173.60 L39.15,173.60 L39.40,173.60 L39.65,173.60 L39.90,173.60 L40.15,173.60 L40.40,173.60 L40.65,173.60 L40.90,173.60 L41.15,173.60 L41.40,173.60 L41.65,173.60 L41.90,173.60 L42.15,173.60 L42.40,173.60 L42.65,173.60 L42.90,173.60 L43.15,173.60 L43.40,173.60 L43.65,173.60 L43.90,173.60 L44.15,173.60 L44.40,173.60 L44.65,173.60 L44.90,173.60 L45.15,173.60 L45.40,173.60 L45.65,173.60 L45.90,173.60 L46.15,173.60 L46.40,173.60 L46.65,173.60 L46.90,173.60 L47.15,173.60 L47.40,173.60 L47.65,173.60 L47.90,173.60 L48.15,173.60 L48.40,173.60 L48.65,173.60 L48.90,173.60 L49.15,173.60 L49.40,173.60 L49.65,173.60 L49.90,173.60 L50.15,173.60 L50.40,173.60 L50.65,173.60 L50.90,173.60 L51.15,173.60 L51.40,173.60 L51.65,173.60 L51.90,173.60 L52.15,173.60 L52.40,173.60 L52.65,173.60 L52.90,173.60 L53.15,173.60 L53.40,173.60 L53.65,173.60 L53.90,173.60 L54.15,173.60 L54.40,173.60 L54.65,173.60 L54.90,173.60 L55.15,173.60 L55.40,173.60 L55.65,173.60 L55.90,173.60 L56.15,173.60 L56.40,173.60 L56.65,173.60 L56.90,173.60 L57.15,173.60 L57.40,173.60 L57.65,173.60 L57.90,173.60 L58.15,171.75 L58.40,169.89 L58.65,168.04 L58.90,166.19 L59.15,164.33 L59.40,162.48 L59.65,160.63 L59.90,158.77 L60.15,156.92 L60.40,155.07 L60.65,153.22 L60.90,151.36 L61.15,149.51 L61.40,147.66 L61.65,145.80 L61.90,143.95 L62.15,142.10 L62.40,140.24 L62.65,138.39 L62.90,136.54 L63.15,134.68 L63.40,132.83 L63.65,130.98 L63.90,129.12 L64.15,127.27 L64.40,125.42 L64.65,124.31 L64.90,126.17 L65.15,128.03 L65.40,129.88 L65.65,131.73 L65.90,133.57 L66.15,135.41 L66.40,137.25 L66.65,139.08 L66.90,140.91 L67.15,142.73 L67.40,144.55 L67.65,146.37 L67.90,148.17 L68.15,149.97 L68.40,151.77 L68.65,153.56 L68.90,155.33 L69.15,157.11 L69.40,158.87 L69.65,160.62 L69.90,162.36 L70.15,164.09 L70.40,165.80 L70.65,167.50 L70.90,169.17 L71.15,170.82 L71.40,172.41 L71.65,173.60 L71.90,173.60 L72.15,173.60 L72.40,173.60 L72.65,173.60 L72.90,173.60 L72.90,173.60 Z" fill="#737373" stroke="none" stroke-width="0"/>
<path d="M19.90,173.60 L19.90,173.60 L20.15,173.60 L20.40,173.60 L20.65,173.60 L20.90,173.60 L21.15,173.60 L21.40,173.60 L21.65,173.60 L21.90,173.60 L22.15,173.60 L22.40,173.60 L22.65,173.60 L22.90,173.60 L23.15,173.60 L23.40,173.60 L23.65,173.60 L23.90,173.60 L24.15,173.60 L24.40,173.60 L24.65,173.60 L24.90,173.60 L25.15,173.60 L25.40,173.60 L25.65,173.60 L25.90,173.60 L26.15,173.60 L26.40,173.60 L26.65,173.60 L26.90,173.60 L27.15,173.60 L27.40,173.60 L27.65,173.60 L27.90,173.60 L28.15,173.60 L28.40,173.60 L28.65,173.60 L28.90,173.60 L29.15,173.60 L29.40,173.60 L29.65,173.60 L29.90,173.60 L30.15,173.60 L30.40,173.60 L30.65,173.60 L30.90,173.60 L31.15,173.60 L31.40,173.60 L31.65,173.60 L31.90,173.60 L32.15,173.60 L32.40,173.60 L32.65,173.60 L32.90,173.60 L33.15,173.60 L33.40,173.60 L33.65,173.60 L33.90,173.60 L34.15,173.60 L34.40,173.60 L34.65,173.60 L34.90,173.60 L35.15,173.60 L35.40,173.60 L35.65,173.60 L35.90,173.60 L36.15,173.60 L36.40,173.60 L36.65,173.60 L36.90,173.60 L37.15,173.60 L37.40,173.60 L37.65,173.60 L37.90,173.60 L38.15,173.60 L38.40,173.60 L38.65,173.60 L38.90,173.60 L39.15,173.60 L39.40,173.60 L39.65,173.60 L39.90,173.60 L40.15,173.60 L40.40,173.60 L40.65,173.60 L40.90,173.60 L41.15,173.60 L41.40,173.60 L41.65,173.60 L41.90,173.60 L42.15,173.60 L42.40,173.60 L42.65,173.60 L42.90,173.60 L43.15,173.60 L43.40,173.60 L43.65,173.60 L43.90,173.60 L44.15,173.60 L44.40,173.60 L44.65,173.60 L44.90,173.60 L45.15,173.60 L45.40,173.60 L45.65,173.60 L45.90,173.60 L46.15,173.60 L46.40,173.60 L46.65,173.60 L46.90,173.60 L47.15,173.60 L47.40,173.60 L47.65,173.60 L47.90,173.60 L48.15,173.60 L48.40,173.60 L48.65,173.60 L48.90,173.60 L49.15,173.60 L49.40,173.60 L49.65,173.60 L49.90,173.60 L50.15,173.60 L50.40,173.60 L50.65,173.60 L50.90,173.60 L51.15,173.60 L51.40,173.60 L51.65,173.60 L51.90,173.60 L52.15,173.60 L52.40,173.60 L52.65,173.54 L52.90,172.86 L53.15,171.82 L53.40,170.56 L53.65,169.10 L53.90,167.47 L54.15,165.71 L54.40,163.81 L54.65,161.80 L54.90,159.67 L55.15,157.44 L55.40,155.11 L55.65,152.68 L55.90,150.17 L56.15,147.57 L56.40,144.89 L56.65,142.13 L56.90,139.30 L57.15,136.39 L57.40,133.41 L57.65,130.36 L57.90,127.25 L58.15,124.07 L58.40,125.82 L58.65,128.77 L58.90,131.68 L59.15,134.53 L59.40,137.34 L59.65,140.10 L59.90,142.80 L60.15,145.45 L60.40,148.03 L60.65,150.56 L60.90,153.02 L61.15,155.41 L61.40,157.73 L61.65,159.96 L61.90,162.11 L62.15,164.17 L62.40,166.12 L62.65,167.96 L62.90,169.66 L63.15,171.20 L63.40,172.52 L63.65,173.50 L63.90,173.60 L64.15,173.60 L64.40,173.60 L64.65,173.60 L64.90,173.60 L65.15,173.60 L65.40,173.60 L65.65,173.60 L65.90,173.60 L66.15,173.60 L66.40,173.60 L66.65,173.60 L66.90,173.60 L67.15,173.60 L67.40,173.60 L67.65,173.60 L67.90,173.60 L68.15,173.60 L68.40,173.60 L68.65,173.60 L68.90,173.60 L69.15,173.60 L69.40,173.60 L69.65,173.60 L69.90,173.60 L70.15,173.60 L70.40,173.60 L70.65,173.60 L70.90,173.60 L71.15,173.60 L71.40,173.60 L71.65,173.60 L71.90,173.60 L72.15,173.60 L72.40,173.60 L72.65,173.60 L72.90,173.60 L72.90,173.60 Z" fill="#050505" stroke="none" stroke-width="0"/>
<path d="M19.90,173.60 L20.15,173.60 L20.40,173.60 L20.65,173.59 L20.90,173.59 L21.15,173.59 L21.40,173.58 L21.65,173.57 L21.90,173.55 L22.15,173.53 L22.40,173.49 L22.65,173.45 L22.90,173.38 L23.15,173.30 L23.40,173.18 L23.65,173.02 L23.90,172.82 L24.15,172.56 L24.40,172.23 L24.65,171.82 L24.90,171.31 L25.15,170.68 L25.40,169.93 L25.65,169.04 L25.90,168.00 L26.15,166.78 L26.40,165.40 L26.65,163.84 L26.90,162.10 L27.15,160.18 L27.40,158.11 L27.65,155.88 L27.90,153.53 L28.15,151.08 L28.40,148.55 L28.65,145.99 L28.90,143.43 L29.15,140.90 L29.40,138.45 L29.65,136.11 L29.90,133.91 L30.15,131.88 L30.40,130.05 L30.65,128.44 L30.90,127.05 L31.15,125.91 L31.40,125.00 L31.65,124.32 L31.90,123.85 L32.15,123.57 L32.40,123.44 L32.65,123.47 L32.90,124.25 L33.15,125.67 L33.40,127.53 L33.65,129.74 L33.90,132.20 L34.15,134.83 L34.40,137.56 L34.65,140.34 L34.90,143.12 L35.15,145.84 L35.40,148.49 L35.65,151.02 L35.90,153.42 L36.15,155.67 L36.40,157.76 L36.65,159.68 L36.90,161.44 L37.15,163.03 L37.40,164.46 L37.65,165.74 L37.90,166.87 L38.15,167.87 L38.40,168.75 L38.65,169.51 L38.90,170.16 L39.15,170.73 L39.40,171.21 L39.65,171.63 L39.90,171.97 L40.15,172.27 L40.40,172.51 L40.65,172.72 L40.90,172.88 L41.15,173.02 L41.40,173.14 L41.65,173.23 L41.90,173.31 L42.15,173.37 L42.40,173.42 L42.65,173.46 L42.90,173.49 L43.15,173.51 L43.40,173.53 L43.65,173.55 L43.90,173.56 L44.15,173.57 L44.40,173.58 L44.65,173.58 L44.90,173.59 L45.15,173.59 L45.40,173.59 L45.65,173.59 L45.90,173.60 L46.15,173.60 L46.40,173.60 L46.65,173.60 L46.90,173.60 L47.15,173.60 L47.40,173.60 L47.65,173.60 L47.90,173.60 L48.15,173.60 L48.40,173.60 L48.65,173.60 L48.90,173.60 L49.15,173.60 L49.40,173.60 L49.65,173.60 L49.90,173.60 L50.15,173.60 L50.40,173.60 L50.65,173.60 L50.90,173.60 L51.15,173.60 L51.40,173.60 L51.65,173.60 L51.90,173.60 L52.15,173.60 L52.40,173.60 L52.65,173.60 L52.90,173.60 L53.15,173.60 L53.40,173.60 L53.65,173.60 L53.90,173.60 L54.15,173.60 L54.40,173.60 L54.65,173.60 L54.90,173.60 L55.15,173.60 L55.40,173.60 L55.65,173.60 L55.90,173.60 L56.15,173.60 L56.40,173.60 L56.65,173.60 L56.90,173.60 L57.15,173.60 L57.40,173.60 L57.65,173.60 L57.90,173.60 L58.15,173.60 L58.40,173.60 L58.65,173.60 L58.90,173.60 L59.15,173.60 L59.40,173.60 L59.65,173.60 L59.90,173.60 L60.15,173.60 L60.40,173.60 L60.65,173.60 L60.90,173.60 L61.15,173.60 L61.40,173.60 L61.65,173.60 L61.90,173.60 L62.15,173.60 L62.40,173.60 L62.65,173.60 L62.90,173.60 L63.15,173.60 L63.40,173.60 L63.65,173.60 L63.90,173.60 L64.15,173.60 L64.40,173.60 L64.65,173.60 L64.90,173.60 L65.15,173.60 L65.40,173.60 L65.65,173.60 L65.90,173.60 L66.15,173.60 L66.40,173.60 L66.65,173.60 L66.90,173.60 L67.15,173.60 L67.40,173.60 L67.65,173.60 L67.90,173.60 L68.15,173.60 L68.40,173.60 L68.65,173.60 L68.90,173.60 L69.15,173.60 L69.40,173.60 L69.65,173.60 L69.90,173.60 L70.15,173.60 L70.40,173.60 L70.65,173.60 L70.90,173.60 L71.15,173.60 L71.40,173.60 L71.65,173.60 L71.90,173.60 L72.15,173.60 L72.40,173.60 L72.65,173.60 L72.90,173.60" fill="none" stroke="#333333" stroke-width="0.55" stroke-linejoin="round"/>
<rect x="19.40" y="119.80" width="54.10" height="54.10" fill="none" stroke="#a2a2a2" stroke-width="1"/>
<line x1="18.10" y1="173.60" x2="19.40" y2="173.60" stroke="#666" stroke-width="0.6"/>
<text x="17.90" y="175.10" font-size="2.7" fill="#555" stroke="#555" stroke-width="0.08" text-anchor="end" textLength="1.3" lengthAdjust="spacingAndGlyphs">0</text>
<line x1="18.10" y1="163.36" x2="19.40" y2="163.36" stroke="#666" stroke-width="0.6"/>
<text x="17.90" y="164.86" font-size="2.7" fill="#555" stroke="#555" stroke-width="0.08" text-anchor="end" textLength="2.6" lengthAdjust="spacingAndGlyphs">20</text>
<line x1="18.10" y1="153.12" x2="19.40" y2="153.12" stroke="#666" stroke-width="0.6"/>
<text x="17.90" y="154.62" font-size="2.7" fill="#555" stroke="#555" stroke-width="0.08" text-anchor="end" textLength="2.6" lengthAdjust="spacingAndGlyphs">40</text>
<line x1="18.10" y1="142.88" x2="19.40" y2="142.88" stroke="#666" stroke-width="0.6"/>
<text x="17.90" y="144.38" font-size="2.7" fill="#555" stroke="#555" stroke-width="0.08" text-anchor="end" textLength="2.6" lengthAdjust="spacingAndGlyphs">60</text>
<line x1="18.10" y1="132.64" x2="19.40" y2="132.64" stroke="#666" stroke-width="0.6"/>
<text x="17.90" y="134.14" font-size="2.7" fill="#555" stroke="#555" stroke-width="0.08" text-anchor="end" textLength="2.6" lengthAdjust="spacingAndGlyphs">80</text>
<line x1="18.10" y1="122.40" x2="19.40" y2="122.40" stroke="#666" stroke-width="0.6"/>
<text x="17.90" y="123.90" font-size="2.7" fill="#555" stroke="#555" stroke-width="0.08" text-anchor="end" textLength="3.9" lengthAdjust="spacingAndGlyphs">100</text>
<text transform="translate(12.40,147.35) rotate(-90)" font-size="2.6" fill="#555" text-anchor="middle">% of Max</text>
<line x1="24.81" y1="173.90" x2="24.81" y2="175.10" stroke="#666" stroke-width="0.6"/>
<text x="24.81" y="179.30" font-size="2.6" fill="#666" text-anchor="middle">0</text>
<line x1="30.76" y1="173.90" x2="30.76" y2="175.10" stroke="#666" stroke-width="0.6"/>
<text x="30.76" y="179.30" font-size="2.6" fill="#666" text-anchor="middle">10¹</text>
<line x1="44.29" y1="173.90" x2="44.29" y2="175.10" stroke="#666" stroke-width="0.6"/>
<text x="44.29" y="179.30" font-size="2.6" fill="#666" text-anchor="middle">10²</text>
<line x1="56.19" y1="173.90" x2="56.19" y2="175.10" stroke="#666" stroke-width="0.6"/>
<text x="56.19" y="179.30" font-size="2.6" fill="#666" text-anchor="middle">10³</text>
<line x1="68.09" y1="173.90" x2="68.09" y2="175.10" stroke="#666" stroke-width="0.6"/>
<text x="68.09" y="179.30" font-size="2.6" fill="#666" text-anchor="middle">10⁴</text>
<text x="44.83" y="182.40" font-size="2.7" fill="#777" text-anchor="middle">PE-A</text>
</g>
<g>
<path d="M89.00,170.90 L89.00,170.90 L89.25,170.90 L89.50,170.90 L89.75,170.90 L90.00,170.90 L90.25,170.90 L90.50,170.90 L90.75,170.90 L91.00,170.90 L91.25,170.90 L91.50,170.90 L91.75,170.90 L92.00,170.90 L92.25,170.90 L92.50,170.90 L92.75,170.90 L93.00,170.90 L93.25,170.90 L93.50,170.90 L93.75,170.90 L94.00,170.90 L94.25,170.90 L94.50,170.90 L94.75,170.90 L95.00,170.90 L95.25,170.90 L95.50,170.90 L95.75,170.90 L96.00,170.90 L96.25,170.90 L96.50,170.90 L96.75,170.90 L97.00,170.90 L97.25,170.90 L97.50,170.90 L97.75,170.90 L98.00,170.90 L98.25,170.90 L98.50,170.90 L98.75,170.90 L99.00,170.90 L99.25,170.90 L99.50,170.90 L99.75,170.90 L100.00,170.90 L100.25,170.90 L100.50,170.90 L100.75,170.90 L101.00,170.90 L101.25,170.90 L101.50,170.90 L101.75,170.90 L102.00,170.90 L102.25,170.90 L102.50,170.90 L102.75,170.90 L103.00,170.90 L103.25,170.90 L103.50,170.90 L103.75,170.90 L104.00,170.90 L104.25,170.90 L104.50,170.90 L104.75,170.90 L105.00,170.90 L105.25,170.90 L105.50,170.90 L105.75,170.90 L106.00,170.90 L106.25,170.90 L106.50,170.90 L106.75,170.90 L107.00,170.90 L107.25,170.90 L107.50,170.90 L107.75,170.89 L108.00,170.89 L108.25,170.89 L108.50,170.89 L108.75,170.89 L109.00,170.88 L109.25,170.88 L109.50,170.87 L109.75,170.86 L110.00,170.86 L110.25,170.84 L110.50,170.83 L110.75,170.82 L111.00,170.80 L111.25,170.77 L111.50,170.74 L111.75,170.71 L112.00,170.67 L112.25,170.62 L112.50,170.56 L112.75,170.49 L113.00,170.41 L113.25,170.32 L113.50,170.20 L113.75,170.08 L114.00,169.93 L114.25,169.75 L114.50,169.55 L114.75,169.32 L115.00,169.06 L115.25,168.77 L115.50,168.43 L115.75,168.05 L116.00,167.63 L116.25,167.15 L116.50,166.62 L116.75,166.03 L117.00,165.39 L117.25,164.67 L117.50,163.89 L117.75,163.03 L118.00,162.11 L118.25,161.10 L118.50,160.02 L118.75,158.87 L119.00,157.63 L119.25,156.33 L119.50,154.94 L119.75,153.49 L120.00,151.97 L120.25,150.39 L120.50,148.75 L120.75,147.07 L121.00,145.35 L121.25,143.60 L121.50,141.82 L121.75,140.05 L122.00,138.27 L122.25,136.51 L122.50,134.79 L122.75,133.11 L123.00,131.49 L123.25,129.94 L123.50,128.48 L123.75,127.12 L124.00,125.87 L124.25,124.74 L124.50,123.75 L124.75,122.91 L125.00,122.22 L125.25,121.70 L125.50,121.34 L125.75,121.15 L126.00,121.53 L126.25,124.09 L126.50,127.86 L126.75,132.30 L127.00,137.00 L127.25,141.69 L127.50,146.17 L127.75,150.31 L128.00,154.01 L128.25,157.26 L128.50,160.03 L128.75,162.36 L129.00,164.27 L129.25,165.82 L129.50,167.06 L129.75,168.02 L130.00,168.77 L130.25,169.35 L130.50,169.78 L130.75,170.10 L131.00,170.33 L131.25,170.50 L131.50,170.62 L131.75,170.71 L132.00,170.77 L132.25,170.81 L132.50,170.84 L132.75,170.86 L133.00,170.87 L133.25,170.88 L133.50,170.89 L133.75,170.89 L134.00,170.90 L134.25,170.90 L134.50,170.90 L134.75,170.90 L135.00,170.90 L135.25,170.90 L135.50,170.90 L135.75,170.90 L136.00,170.90 L136.25,170.90 L136.50,170.90 L136.75,170.90 L137.00,170.90 L137.25,170.90 L137.50,170.90 L137.75,170.90 L138.00,170.90 L138.25,170.90 L138.50,170.90 L138.75,170.90 L139.00,170.90 L139.25,170.90 L139.50,170.90 L139.75,170.90 L140.00,170.90 L140.25,170.90 L140.50,170.90 L140.75,170.90 L141.00,170.90 L141.25,170.90 L141.50,170.90 L141.75,170.90 L142.00,170.90 L142.00,170.90 Z" fill="#050505" stroke="none" stroke-width="0"/>
<path d="M89.00,170.90 L89.00,170.90 L89.25,170.90 L89.50,170.90 L89.75,170.90 L90.00,170.90 L90.25,170.90 L90.50,170.90 L90.75,170.90 L91.00,170.90 L91.25,170.90 L91.50,170.90 L91.75,170.90 L92.00,170.90 L92.25,170.90 L92.50,170.90 L92.75,170.90 L93.00,170.90 L93.25,170.90 L93.50,170.90 L93.75,170.90 L94.00,170.90 L94.25,170.90 L94.50,170.90 L94.75,170.90 L95.00,170.90 L95.25,170.90 L95.50,170.90 L95.75,170.90 L96.00,170.90 L96.25,170.90 L96.50,170.90 L96.75,170.90 L97.00,170.90 L97.25,170.90 L97.50,170.90 L97.75,170.90 L98.00,170.90 L98.25,170.90 L98.50,170.90 L98.75,170.90 L99.00,170.90 L99.25,170.90 L99.50,170.90 L99.75,170.90 L100.00,170.90 L100.25,170.90 L100.50,170.90 L100.75,170.90 L101.00,170.90 L101.25,170.90 L101.50,170.90 L101.75,170.90 L102.00,170.90 L102.25,170.90 L102.50,170.90 L102.75,170.90 L103.00,170.90 L103.25,170.90 L103.50,170.90 L103.75,170.90 L104.00,170.90 L104.25,170.90 L104.50,170.90 L104.75,170.90 L105.00,170.90 L105.25,170.90 L105.50,170.90 L105.75,170.90 L106.00,170.90 L106.25,170.90 L106.50,170.90 L106.75,170.90 L107.00,170.90 L107.25,170.90 L107.50,170.90 L107.75,170.90 L108.00,170.90 L108.25,170.90 L108.50,170.90 L108.75,170.90 L109.00,170.90 L109.25,170.90 L109.50,170.90 L109.75,170.90 L110.00,170.90 L110.25,170.90 L110.50,170.90 L110.75,170.90 L111.00,170.90 L111.25,170.90 L111.50,170.90 L111.75,170.90 L112.00,170.90 L112.25,170.90 L112.50,170.90 L112.75,170.90 L113.00,170.90 L113.25,170.90 L113.50,170.90 L113.75,170.90 L114.00,170.90 L114.25,170.90 L114.50,170.90 L114.75,170.90 L115.00,170.90 L115.25,170.90 L115.50,170.90 L115.75,170.90 L116.00,170.90 L116.25,170.90 L116.50,170.90 L116.75,170.90 L117.00,170.90 L117.25,170.90 L117.50,170.90 L117.75,170.90 L118.00,170.90 L118.25,170.90 L118.50,170.90 L118.75,170.90 L119.00,170.90 L119.25,170.90 L119.50,170.90 L119.75,170.89 L120.00,170.89 L120.25,170.88 L120.50,170.85 L120.75,170.81 L121.00,170.73 L121.25,170.61 L121.50,170.40 L121.75,170.08 L122.00,169.59 L122.25,168.88 L122.50,167.90 L122.75,166.57 L123.00,164.84 L123.25,162.66 L123.50,160.04 L123.75,156.97 L124.00,153.52 L124.25,149.77 L124.50,145.84 L124.75,141.87 L125.00,138.03 L125.25,134.47 L125.50,131.31 L125.75,128.66 L126.00,126.59 L126.25,125.11 L126.50,124.19 L126.75,123.75 L127.00,123.66 L127.25,123.87 L127.50,124.45 L127.75,125.34 L128.00,126.52 L128.25,127.94 L128.50,129.58 L128.75,131.40 L129.00,133.37 L129.25,135.45 L129.50,137.61 L129.75,139.82 L130.00,142.04 L130.25,144.27 L130.50,146.45 L130.75,148.58 L131.00,150.64 L131.25,152.61 L131.50,154.48 L131.75,156.23 L132.00,157.87 L132.25,159.39 L132.50,160.78 L132.75,162.05 L133.00,163.21 L133.25,164.24 L133.50,165.17 L133.75,165.99 L134.00,166.72 L134.25,167.36 L134.50,167.91 L134.75,168.39 L135.00,168.81 L135.25,169.16 L135.50,169.46 L135.75,169.72 L136.00,169.93 L136.25,170.11 L136.50,170.26 L136.75,170.39 L137.00,170.49 L137.25,170.57 L137.50,170.64 L137.75,170.69 L138.00,170.74 L138.25,170.77 L138.50,170.80 L138.75,170.82 L139.00,170.84 L139.25,170.85 L139.50,170.87 L139.75,170.87 L140.00,170.88 L140.25,170.88 L140.50,170.89 L140.75,170.89 L141.00,170.89 L141.25,170.90 L141.50,170.90 L141.75,170.90 L142.00,170.90 L142.00,170.90 Z" fill="#737373" stroke="none" stroke-width="0"/>
<path d="M89.00,170.90 L89.25,170.90 L89.50,170.90 L89.75,170.90 L90.00,170.90 L90.25,170.90 L90.50,170.90 L90.75,170.90 L91.00,170.90 L91.25,170.90 L91.50,170.90 L91.75,170.90 L92.00,170.90 L92.25,170.90 L92.50,170.90 L92.75,170.90 L93.00,170.90 L93.25,170.90 L93.50,170.90 L93.75,170.90 L94.00,170.90 L94.25,170.90 L94.50,170.90 L94.75,170.90 L95.00,170.90 L95.25,170.90 L95.50,170.90 L95.75,170.90 L96.00,170.90 L96.25,170.90 L96.50,170.90 L96.75,170.90 L97.00,170.90 L97.25,170.90 L97.50,170.90 L97.75,170.90 L98.00,170.90 L98.25,170.90 L98.50,170.90 L98.75,170.90 L99.00,170.90 L99.25,170.90 L99.50,170.90 L99.75,170.90 L100.00,170.90 L100.25,170.90 L100.50,170.90 L100.75,170.90 L101.00,170.90 L101.25,170.90 L101.50,170.90 L101.75,170.90 L102.00,170.90 L102.25,170.90 L102.50,170.90 L102.75,170.90 L103.00,170.90 L103.25,170.90 L103.50,170.90 L103.75,170.89 L104.00,170.89 L104.25,170.88 L104.50,170.87 L104.75,170.85 L105.00,170.82 L105.25,170.76 L105.50,170.68 L105.75,170.56 L106.00,170.38 L106.25,170.12 L106.50,169.76 L106.75,169.26 L107.00,168.60 L107.25,167.74 L107.50,166.64 L107.75,165.28 L108.00,163.61 L108.25,161.63 L108.50,159.33 L108.75,156.72 L109.00,153.82 L109.25,150.67 L109.50,147.34 L109.75,143.90 L110.00,140.44 L110.25,137.06 L110.50,133.83 L110.75,130.86 L111.00,128.22 L111.25,125.97 L111.50,124.15 L111.75,122.78 L112.00,121.85 L112.25,121.32 L112.50,121.13 L112.75,121.24 L113.00,121.97 L113.25,123.32 L113.50,125.21 L113.75,127.58 L114.00,130.34 L114.25,133.40 L114.50,136.65 L114.75,140.01 L115.00,143.38 L115.25,146.68 L115.50,149.84 L115.75,152.82 L116.00,155.56 L116.25,158.04 L116.50,160.25 L116.75,162.19 L117.00,163.86 L117.25,165.28 L117.50,166.46 L117.75,167.44 L118.00,168.24 L118.25,168.87 L118.50,169.38 L118.75,169.77 L119.00,170.07 L119.25,170.30 L119.50,170.47 L119.75,170.59 L120.00,170.69 L120.25,170.75 L120.50,170.80 L120.75,170.83 L121.00,170.85 L121.25,170.87 L121.50,170.88 L121.75,170.89 L122.00,170.89 L122.25,170.89 L122.50,170.90 L122.75,170.90 L123.00,170.90 L123.25,170.90 L123.50,170.90 L123.75,170.90 L124.00,170.90 L124.25,170.90 L124.50,170.90 L124.75,170.90 L125.00,170.90 L125.25,170.90 L125.50,170.90 L125.75,170.90 L126.00,170.90 L126.25,170.90 L126.50,170.90 L126.75,170.90 L127.00,170.90 L127.25,170.90 L127.50,170.90 L127.75,170.90 L128.00,170.90 L128.25,170.90 L128.50,170.90 L128.75,170.90 L129.00,170.90 L129.25,170.90 L129.50,170.90 L129.75,170.90 L130.00,170.90 L130.25,170.90 L130.50,170.90 L130.75,170.90 L131.00,170.90 L131.25,170.90 L131.50,170.90 L131.75,170.90 L132.00,170.90 L132.25,170.90 L132.50,170.90 L132.75,170.90 L133.00,170.90 L133.25,170.90 L133.50,170.90 L133.75,170.90 L134.00,170.90 L134.25,170.90 L134.50,170.90 L134.75,170.90 L135.00,170.90 L135.25,170.90 L135.50,170.90 L135.75,170.90 L136.00,170.90 L136.25,170.90 L136.50,170.90 L136.75,170.90 L137.00,170.90 L137.25,170.90 L137.50,170.90 L137.75,170.90 L138.00,170.90 L138.25,170.90 L138.50,170.90 L138.75,170.90 L139.00,170.90 L139.25,170.90 L139.50,170.90 L139.75,170.90 L140.00,170.90 L140.25,170.90 L140.50,170.90 L140.75,170.90 L141.00,170.90 L141.25,170.90 L141.50,170.90 L141.75,170.90 L142.00,170.90" fill="none" stroke="#333333" stroke-width="0.55" stroke-linejoin="round"/>
<rect x="88.50" y="117.50" width="54.00" height="53.70" fill="none" stroke="#a2a2a2" stroke-width="1"/>
<line x1="87.20" y1="170.90" x2="88.50" y2="170.90" stroke="#666" stroke-width="0.6"/>
<text x="87.00" y="172.40" font-size="2.7" fill="#555" stroke="#555" stroke-width="0.08" text-anchor="end" textLength="1.3" lengthAdjust="spacingAndGlyphs">0</text>
<line x1="87.20" y1="160.74" x2="88.50" y2="160.74" stroke="#666" stroke-width="0.6"/>
<text x="87.00" y="162.24" font-size="2.7" fill="#555" stroke="#555" stroke-width="0.08" text-anchor="end" textLength="2.6" lengthAdjust="spacingAndGlyphs">20</text>
<line x1="87.20" y1="150.58" x2="88.50" y2="150.58" stroke="#666" stroke-width="0.6"/>
<text x="87.00" y="152.08" font-size="2.7" fill="#555" stroke="#555" stroke-width="0.08" text-anchor="end" textLength="2.6" lengthAdjust="spacingAndGlyphs">40</text>
<line x1="87.20" y1="140.42" x2="88.50" y2="140.42" stroke="#666" stroke-width="0.6"/>
<text x="87.00" y="141.92" font-size="2.7" fill="#555" stroke="#555" stroke-width="0.08" text-anchor="end" textLength="2.6" lengthAdjust="spacingAndGlyphs">60</text>
<line x1="87.20" y1="130.26" x2="88.50" y2="130.26" stroke="#666" stroke-width="0.6"/>
<text x="87.00" y="131.76" font-size="2.7" fill="#555" stroke="#555" stroke-width="0.08" text-anchor="end" textLength="2.6" lengthAdjust="spacingAndGlyphs">80</text>
<line x1="87.20" y1="120.10" x2="88.50" y2="120.10" stroke="#666" stroke-width="0.6"/>
<text x="87.00" y="121.60" font-size="2.7" fill="#555" stroke="#555" stroke-width="0.08" text-anchor="end" textLength="3.9" lengthAdjust="spacingAndGlyphs">100</text>
<text transform="translate(81.50,144.85) rotate(-90)" font-size="2.6" fill="#555" text-anchor="middle">% of Max</text>
<line x1="93.90" y1="171.20" x2="93.90" y2="172.40" stroke="#666" stroke-width="0.6"/>
<text x="93.90" y="176.60" font-size="2.6" fill="#666" text-anchor="middle">0</text>
<line x1="99.84" y1="171.20" x2="99.84" y2="172.40" stroke="#666" stroke-width="0.6"/>
<text x="99.84" y="176.60" font-size="2.6" fill="#666" text-anchor="middle">10¹</text>
<line x1="113.34" y1="171.20" x2="113.34" y2="172.40" stroke="#666" stroke-width="0.6"/>
<text x="113.34" y="176.60" font-size="2.6" fill="#666" text-anchor="middle">10²</text>
<line x1="125.22" y1="171.20" x2="125.22" y2="172.40" stroke="#666" stroke-width="0.6"/>
<text x="125.22" y="176.60" font-size="2.6" fill="#666" text-anchor="middle">10³</text>
<line x1="137.10" y1="171.20" x2="137.10" y2="172.40" stroke="#666" stroke-width="0.6"/>
<text x="137.10" y="176.60" font-size="2.6" fill="#666" text-anchor="middle">10⁴</text>
<text x="113.88" y="179.70" font-size="2.7" fill="#777" text-anchor="middle">PE-A</text>
</g>
<g>
<path d="M155.10,170.80 L155.10,170.80 L155.35,170.80 L155.60,170.80 L155.85,170.80 L156.10,170.80 L156.35,170.80 L156.60,170.80 L156.85,170.80 L157.10,170.80 L157.35,170.80 L157.60,170.80 L157.85,170.80 L158.10,170.80 L158.35,170.80 L158.60,170.80 L158.85,170.80 L159.10,170.80 L159.35,170.80 L159.60,170.80 L159.85,170.80 L160.10,170.80 L160.35,170.80 L160.60,170.80 L160.85,170.80 L161.10,170.80 L161.35,170.80 L161.60,170.80 L161.85,170.80 L162.10,170.80 L162.35,170.80 L162.60,170.80 L162.85,170.80 L163.10,170.80 L163.35,170.80 L163.60,170.80 L163.85,170.80 L164.10,170.80 L164.35,170.80 L164.60,170.80 L164.85,170.80 L165.10,170.80 L165.35,170.80 L165.60,170.80 L165.85,170.80 L166.10,170.80 L166.35,170.80 L166.60,170.80 L166.85,170.80 L167.10,170.80 L167.35,170.80 L167.60,170.80 L167.85,170.80 L168.10,170.80 L168.35,170.80 L168.60,170.80 L168.85,170.80 L169.10,170.80 L169.35,170.80 L169.60,170.80 L169.85,170.80 L170.10,170.80 L170.35,170.80 L170.60,170.80 L170.85,170.80 L171.10,170.80 L171.35,170.80 L171.60,170.80 L171.85,170.80 L172.10,170.80 L172.35,170.80 L172.60,170.80 L172.85,170.80 L173.10,170.80 L173.35,170.80 L173.60,170.80 L173.85,170.80 L174.10,170.80 L174.35,170.80 L174.60,170.80 L174.85,170.80 L175.10,170.80 L175.35,170.80 L175.60,170.80 L175.85,170.80 L176.10,170.80 L176.35,170.80 L176.60,170.80 L176.85,170.80 L177.10,170.80 L177.35,170.80 L177.60,170.80 L177.85,170.80 L178.10,170.80 L178.35,170.80 L178.60,170.80 L178.85,170.80 L179.10,170.80 L179.35,170.80 L179.60,170.80 L179.85,170.80 L180.10,170.80 L180.35,170.80 L180.60,170.80 L180.85,170.80 L181.10,170.80 L181.35,170.80 L181.60,170.80 L181.85,170.80 L182.10,170.80 L182.35,170.80 L182.60,170.80 L182.85,170.80 L183.10,170.80 L183.35,170.80 L183.60,170.80 L183.85,170.80 L184.10,170.80 L184.35,170.80 L184.60,170.80 L184.85,170.80 L185.10,170.80 L185.35,170.80 L185.60,170.80 L185.85,170.80 L186.10,170.80 L186.35,170.80 L186.60,170.80 L186.85,170.80 L187.10,170.80 L187.35,170.80 L187.60,170.80 L187.85,170.80 L188.10,170.80 L188.35,170.80 L188.60,170.80 L188.85,170.80 L189.10,170.80 L189.35,170.80 L189.60,170.80 L189.85,170.80 L190.10,170.80 L190.35,170.80 L190.60,170.80 L190.85,170.80 L191.10,170.80 L191.35,170.80 L191.60,170.80 L191.85,170.80 L192.10,170.80 L192.35,170.80 L192.60,170.80 L192.85,170.79 L193.10,170.79 L193.35,170.79 L193.60,170.78 L193.85,170.77 L194.10,170.76 L194.35,170.74 L194.60,170.71 L194.85,170.66 L195.10,170.60 L195.35,170.52 L195.60,170.41 L195.85,170.25 L196.10,170.04 L196.35,169.77 L196.60,169.41 L196.85,168.94 L197.10,168.35 L197.35,167.61 L197.60,166.69 L197.85,165.59 L198.10,164.28 L198.35,162.75 L198.60,161.02 L198.85,159.09 L199.10,157.02 L199.35,154.86 L199.60,152.72 L199.85,150.74 L200.10,149.10 L200.35,148.09 L200.60,148.33 L200.85,149.10 L201.10,150.14 L201.35,151.37 L201.60,152.72 L201.85,154.14 L202.10,155.58 L202.35,157.02 L202.60,158.41 L202.85,159.75 L203.10,161.02 L203.35,162.20 L203.60,163.29 L203.85,164.28 L204.10,165.18 L204.35,165.98 L204.60,166.69 L204.85,167.32 L205.10,167.87 L205.35,168.35 L205.60,168.76 L205.85,169.11 L206.10,169.41 L206.35,169.66 L206.60,169.87 L206.85,170.04 L207.10,170.19 L207.35,170.31 L207.60,170.41 L207.85,170.49 L207.85,170.80 Z" fill="#737373" stroke="none" stroke-width="0"/>
<path d="M155.10,170.80 L155.10,170.80 L155.35,170.80 L155.60,170.80 L155.85,170.80 L156.10,170.80 L156.35,170.80 L156.60,170.80 L156.85,170.80 L157.10,170.80 L157.35,170.80 L157.60,170.80 L157.85,170.80 L158.10,170.80 L158.35,170.80 L158.60,170.80 L158.85,170.80 L159.10,170.80 L159.35,170.80 L159.60,170.80 L159.85,170.80 L160.10,170.80 L160.35,170.80 L160.60,170.80 L160.85,170.80 L161.10,170.80 L161.35,170.80 L161.60,170.80 L161.85,170.80 L162.10,170.80 L162.35,170.80 L162.60,170.80 L162.85,170.80 L163.10,170.80 L163.35,170.80 L163.60,170.80 L163.85,170.80 L164.10,170.80 L164.35,170.80 L164.60,170.80 L164.85,170.80 L165.10,170.80 L165.35,170.80 L165.60,170.80 L165.85,170.80 L166.10,170.80 L166.35,170.80 L166.60,170.80 L166.85,170.80 L167.10,170.80 L167.35,170.80 L167.60,170.80 L167.85,170.80 L168.10,170.80 L168.35,170.80 L168.60,170.80 L168.85,170.80 L169.10,170.80 L169.35,170.80 L169.60,170.80 L169.85,170.80 L170.10,170.80 L170.35,170.80 L170.60,170.80 L170.85,170.80 L171.10,170.80 L171.35,170.80 L171.60,170.80 L171.85,170.80 L172.10,170.80 L172.35,170.80 L172.60,170.80 L172.85,170.80 L173.10,170.80 L173.35,170.80 L173.60,170.80 L173.85,170.80 L174.10,170.80 L174.35,170.80 L174.60,170.80 L174.85,170.80 L175.10,170.80 L175.35,170.80 L175.60,170.80 L175.85,170.80 L176.10,170.80 L176.35,170.80 L176.60,170.80 L176.85,170.80 L177.10,170.80 L177.35,170.80 L177.60,170.80 L177.85,170.80 L178.10,170.80 L178.35,170.80 L178.60,170.80 L178.85,170.80 L179.10,170.80 L179.35,170.80 L179.60,170.80 L179.85,170.80 L180.10,170.80 L180.35,170.80 L180.60,170.80 L180.85,170.80 L181.10,170.80 L181.35,170.80 L181.60,170.80 L181.85,170.80 L182.10,170.80 L182.35,170.80 L182.60,170.80 L182.85,170.80 L183.10,170.80 L183.35,170.79 L183.60,170.79 L183.85,170.79 L184.10,170.79 L184.35,170.79 L184.60,170.79 L184.85,170.78 L185.10,170.78 L185.35,170.78 L185.60,170.77 L185.85,170.77 L186.10,170.76 L186.35,170.75 L186.60,170.74 L186.85,170.73 L187.10,170.71 L187.35,170.70 L187.60,170.68 L187.85,170.66 L188.10,170.63 L188.35,170.60 L188.60,170.56 L188.85,170.52 L189.10,170.47 L189.35,170.41 L189.60,170.34 L189.85,170.26 L190.10,170.16 L190.35,170.05 L190.60,169.93 L190.85,169.78 L191.10,169.62 L191.35,169.43 L191.60,169.21 L191.85,168.96 L192.10,168.67 L192.35,168.34 L192.60,167.97 L192.85,167.54 L193.10,167.07 L193.35,166.52 L193.60,165.92 L193.85,165.23 L194.10,164.47 L194.35,163.62 L194.60,162.66 L194.85,161.61 L195.10,160.45 L195.35,159.16 L195.60,157.75 L195.85,156.21 L196.10,154.54 L196.35,152.72 L196.60,150.76 L196.85,148.66 L197.10,146.42 L197.35,144.05 L197.60,141.55 L197.85,138.95 L198.10,136.27 L198.35,133.53 L198.60,130.78 L198.85,128.08 L199.10,125.49 L199.35,123.12 L199.60,121.16 L199.85,120.28 L200.10,121.62 L200.35,123.87 L200.60,126.68 L200.85,129.86 L201.10,133.24 L201.35,136.71 L201.60,140.16 L201.85,143.52 L202.10,146.72 L202.35,149.73 L202.60,152.51 L202.85,155.04 L203.10,157.33 L203.35,159.37 L203.60,161.16 L203.85,162.73 L204.10,164.09 L204.35,165.26 L204.60,166.26 L204.85,167.09 L205.10,167.80 L205.35,168.38 L205.60,168.86 L205.85,169.26 L206.10,169.58 L206.35,169.84 L206.60,170.05 L206.85,170.21 L207.10,170.35 L207.35,170.45 L207.60,170.53 L207.85,170.60 L207.85,170.80 Z" fill="#050505" stroke="none" stroke-width="0"/>
<rect x="154.60" y="117.60" width="53.80" height="53.50" fill="none" stroke="#a2a2a2" stroke-width="1"/>
<line x1="153.30" y1="170.80" x2="154.60" y2="170.80" stroke="#666" stroke-width="0.6"/>
<text x="153.10" y="172.30" font-size="2.7" fill="#555" stroke="#555" stroke-width="0.08" text-anchor="end" textLength="1.3" lengthAdjust="spacingAndGlyphs">0</text>
<line x1="153.30" y1="160.68" x2="154.60" y2="160.68" stroke="#666" stroke-width="0.6"/>
<text x="153.10" y="162.18" font-size="2.7" fill="#555" stroke="#555" stroke-width="0.08" text-anchor="end" textLength="2.6" lengthAdjust="spacingAndGlyphs">20</text>
<line x1="153.30" y1="150.56" x2="154.60" y2="150.56" stroke="#666" stroke-width="0.6"/>
<text x="153.10" y="152.06" font-size="2.7" fill="#555" stroke="#555" stroke-width="0.08" text-anchor="end" textLength="2.6" lengthAdjust="spacingAndGlyphs">40</text>
<line x1="153.30" y1="140.44" x2="154.60" y2="140.44" stroke="#666" stroke-width="0.6"/>
<text x="153.10" y="141.94" font-size="2.7" fill="#555" stroke="#555" stroke-width="0.08" text-anchor="end" textLength="2.6" lengthAdjust="spacingAndGlyphs">60</text>
<line x1="153.30" y1="130.32" x2="154.60" y2="130.32" stroke="#666" stroke-width="0.6"/>
<text x="153.10" y="131.82" font-size="2.7" fill="#555" stroke="#555" stroke-width="0.08" text-anchor="end" textLength="2.6" lengthAdjust="spacingAndGlyphs">80</text>
<line x1="153.30" y1="120.20" x2="154.60" y2="120.20" stroke="#666" stroke-width="0.6"/>
<text x="153.10" y="121.70" font-size="2.7" fill="#555" stroke="#555" stroke-width="0.08" text-anchor="end" textLength="3.9" lengthAdjust="spacingAndGlyphs">100</text>
<text transform="translate(147.60,144.85) rotate(-90)" font-size="2.6" fill="#555" text-anchor="middle">% of Max</text>
<line x1="159.98" y1="171.10" x2="159.98" y2="172.30" stroke="#666" stroke-width="0.6"/>
<text x="159.98" y="176.50" font-size="2.6" fill="#666" text-anchor="middle">0</text>
<line x1="165.90" y1="171.10" x2="165.90" y2="172.30" stroke="#666" stroke-width="0.6"/>
<text x="165.90" y="176.50" font-size="2.6" fill="#666" text-anchor="middle">10¹</text>
<line x1="179.35" y1="171.10" x2="179.35" y2="172.30" stroke="#666" stroke-width="0.6"/>
<text x="179.35" y="176.50" font-size="2.6" fill="#666" text-anchor="middle">10²</text>
<line x1="191.18" y1="171.10" x2="191.18" y2="172.30" stroke="#666" stroke-width="0.6"/>
<text x="191.18" y="176.50" font-size="2.6" fill="#666" text-anchor="middle">10³</text>
<line x1="203.02" y1="171.10" x2="203.02" y2="172.30" stroke="#666" stroke-width="0.6"/>
<text x="203.02" y="176.50" font-size="2.6" fill="#666" text-anchor="middle">10⁴</text>
<text x="179.89" y="179.60" font-size="2.7" fill="#777" text-anchor="middle">PE-A</text>
</g>
<g>
<path d="M220.10,170.80 L220.10,170.80 L220.35,170.80 L220.60,170.80 L220.85,170.80 L221.10,170.80 L221.35,170.80 L221.60,170.80 L221.85,170.80 L222.10,170.80 L222.35,170.80 L222.60,170.80 L222.85,170.80 L223.10,170.80 L223.35,170.80 L223.60,170.80 L223.85,170.80 L224.10,170.80 L224.35,170.80 L224.60,170.80 L224.85,170.80 L225.10,170.80 L225.35,170.80 L225.60,170.80 L225.85,170.80 L226.10,170.80 L226.35,170.80 L226.60,170.80 L226.85,170.80 L227.10,170.80 L227.35,170.80 L227.60,170.80 L227.85,170.80 L228.10,170.80 L228.35,170.80 L228.60,170.80 L228.85,170.80 L229.10,170.80 L229.35,170.80 L229.60,170.80 L229.85,170.80 L230.10,170.80 L230.35,170.80 L230.60,170.80 L230.85,170.80 L231.10,170.79 L231.35,170.79 L231.60,170.79 L231.85,170.79 L232.10,170.78 L232.35,170.78 L232.60,170.77 L232.85,170.77 L233.10,170.76 L233.35,170.74 L233.60,170.73 L233.85,170.71 L234.10,170.69 L234.35,170.66 L234.60,170.63 L234.85,170.59 L235.10,170.54 L235.35,170.48 L235.60,170.40 L235.85,170.32 L236.10,170.21 L236.35,170.08 L236.60,169.93 L236.85,169.76 L237.10,169.55 L237.35,169.30 L237.60,169.02 L237.85,168.68 L238.10,168.30 L238.35,167.85 L238.60,167.35 L238.85,166.76 L239.10,166.10 L239.35,165.36 L239.60,164.52 L239.85,163.58 L240.10,162.53 L240.35,161.37 L240.60,160.10 L240.85,158.70 L241.10,157.18 L241.35,155.54 L241.60,153.78 L241.85,151.89 L242.10,149.90 L242.35,147.80 L242.60,145.61 L242.85,143.34 L243.10,141.02 L243.35,138.66 L243.60,136.29 L243.85,133.95 L244.10,131.65 L244.35,129.45 L244.60,127.38 L244.85,125.48 L245.10,123.79 L245.35,122.38 L245.60,121.29 L245.85,120.61 L246.10,120.50 L246.35,120.84 L246.60,121.45 L246.85,122.27 L247.10,123.29 L247.35,124.48 L247.60,125.81 L247.85,127.27 L248.10,128.83 L248.35,130.48 L248.60,132.20 L248.85,133.96 L249.10,135.76 L249.35,137.58 L249.60,139.41 L249.85,141.22 L250.10,143.02 L250.35,144.79 L250.60,146.51 L250.85,148.19 L251.10,149.81 L251.35,151.37 L251.60,152.87 L251.85,154.30 L252.10,155.65 L252.35,156.94 L252.60,158.15 L252.85,159.28 L253.10,160.34 L253.35,161.33 L253.60,162.25 L253.85,163.10 L254.10,163.88 L254.35,164.60 L254.60,165.26 L254.85,165.86 L255.10,166.40 L255.35,166.90 L255.60,167.35 L255.85,167.75 L256.10,168.12 L256.35,168.44 L256.60,168.74 L256.85,169.00 L257.10,169.23 L257.35,169.43 L257.60,169.61 L257.85,169.77 L258.10,169.91 L258.35,170.03 L258.60,170.14 L258.85,170.24 L259.10,170.32 L259.35,170.39 L259.60,170.45 L259.85,170.50 L260.10,170.55 L260.35,170.59 L260.60,170.62 L260.85,170.65 L261.10,170.67 L261.35,170.69 L261.60,170.71 L261.85,170.73 L262.10,170.74 L262.35,170.75 L262.60,170.76 L262.85,170.76 L263.10,170.77 L263.35,170.78 L263.60,170.78 L263.85,170.78 L264.10,170.79 L264.35,170.79 L264.60,170.79 L264.85,170.79 L265.10,170.79 L265.35,170.80 L265.60,170.80 L265.85,170.80 L266.10,170.80 L266.35,170.80 L266.60,170.80 L266.85,170.80 L267.10,170.80 L267.35,170.80 L267.60,170.80 L267.85,170.80 L268.10,170.80 L268.35,170.80 L268.60,170.80 L268.85,170.80 L269.10,170.80 L269.35,170.80 L269.60,170.80 L269.85,170.80 L270.10,170.80 L270.35,170.80 L270.60,170.80 L270.85,170.80 L271.10,170.80 L271.35,170.80 L271.60,170.80 L271.85,170.80 L272.10,170.80 L272.35,170.80 L272.60,170.80 L272.85,170.80 L272.85,170.80 Z" fill="#050505" stroke="none" stroke-width="0"/>
<path d="M220.10,170.80 L220.10,170.80 L220.35,170.80 L220.60,170.80 L220.85,170.80 L221.10,170.80 L221.35,170.80 L221.60,170.80 L221.85,170.80 L222.10,170.80 L222.35,170.80 L222.60,170.80 L222.85,170.80 L223.10,170.80 L223.35,170.80 L223.60,170.80 L223.85,170.80 L224.10,170.80 L224.35,170.80 L224.60,170.80 L224.85,170.80 L225.10,170.80 L225.35,170.80 L225.60,170.80 L225.85,170.80 L226.10,170.80 L226.35,170.80 L226.60,170.80 L226.85,170.80 L227.10,170.80 L227.35,170.80 L227.60,170.80 L227.85,170.80 L228.10,170.80 L228.35,170.80 L228.60,170.80 L228.85,170.80 L229.10,170.80 L229.35,170.80 L229.60,170.80 L229.85,170.80 L230.10,170.79 L230.35,170.79 L230.60,170.79 L230.85,170.79 L231.10,170.78 L231.35,170.78 L231.60,170.77 L231.85,170.77 L232.10,170.76 L232.35,170.74 L232.60,170.73 L232.85,170.71 L233.10,170.69 L233.35,170.66 L233.60,170.63 L233.85,170.59 L234.10,170.54 L234.35,170.48 L234.60,170.41 L234.85,170.32 L235.10,170.21 L235.35,170.09 L235.60,169.94 L235.85,169.76 L236.10,169.55 L236.35,169.31 L236.60,169.03 L236.85,168.69 L237.10,168.31 L237.35,167.87 L237.60,167.36 L237.85,166.78 L238.10,166.13 L238.35,165.39 L238.60,164.55 L238.85,163.61 L239.10,162.57 L239.35,161.42 L239.60,160.15 L239.85,158.76 L240.10,157.25 L240.35,155.62 L240.60,153.86 L240.85,151.99 L241.10,150.00 L241.35,147.92 L241.60,145.74 L241.85,143.48 L242.10,141.17 L242.35,138.82 L242.60,136.47 L242.85,134.13 L243.10,131.85 L243.35,129.66 L243.60,127.60 L243.85,125.70 L244.10,124.03 L244.35,122.62 L244.60,121.54 L244.85,120.86 L245.10,120.76 L245.35,121.17 L245.60,121.90 L245.85,122.89 L246.10,124.11 L246.35,125.52 L246.60,127.10 L246.85,128.81 L247.10,130.64 L247.35,132.54 L247.60,134.51 L247.85,136.52 L248.10,138.54 L248.35,140.56 L248.60,142.57 L248.85,144.54 L249.10,146.46 L249.35,148.32 L249.60,150.12 L249.85,151.84 L250.10,153.48 L250.35,155.03 L250.60,156.49 L250.85,157.86 L251.10,159.14 L251.35,160.33 L251.60,161.43 L251.85,162.44 L252.10,163.36 L252.35,164.21 L252.60,164.97 L252.85,165.67 L253.10,166.29 L253.35,166.85 L253.60,167.36 L253.85,167.80 L254.10,168.20 L254.35,168.55 L254.60,168.86 L254.85,169.14 L255.10,169.37 L255.35,169.58 L255.60,169.76 L255.85,169.92 L256.10,170.05 L256.35,170.17 L256.60,170.27 L256.85,170.35 L257.10,170.43 L257.35,170.49 L257.60,170.54 L257.85,170.58 L258.10,170.62 L258.35,170.65 L258.60,170.68 L258.85,170.70 L259.10,170.72 L259.35,170.73 L259.60,170.75 L259.85,170.76 L260.10,170.76 L260.35,170.77 L260.60,170.78 L260.85,170.78 L261.10,170.79 L261.35,170.79 L261.60,170.79 L261.85,170.79 L262.10,170.79 L262.35,170.80 L262.60,170.80 L262.85,170.80 L263.10,170.80 L263.35,170.80 L263.60,170.80 L263.85,170.80 L264.10,170.80 L264.35,170.80 L264.60,170.80 L264.85,170.80 L265.10,170.80 L265.35,170.80 L265.60,170.80 L265.85,170.80 L266.10,170.80 L266.35,170.80 L266.60,170.80 L266.85,170.80 L267.10,170.80 L267.35,170.80 L267.60,170.80 L267.85,170.80 L268.10,170.80 L268.35,170.80 L268.60,170.80 L268.85,170.80 L269.10,170.80 L269.35,170.80 L269.60,170.80 L269.85,170.80 L270.10,170.80 L270.35,170.80 L270.60,170.80 L270.85,170.80 L271.10,170.80 L271.35,170.80 L271.60,170.80 L271.85,170.80 L272.10,170.80 L272.35,170.80 L272.60,170.80 L272.85,170.80 L272.85,170.80 Z" fill="#737373" stroke="none" stroke-width="0"/>
<path d="M220.10,170.80 L220.35,170.80 L220.60,170.80 L220.85,170.80 L221.10,170.80 L221.35,170.80 L221.60,170.80 L221.85,170.80 L222.10,170.80 L222.35,170.80 L222.60,170.80 L222.85,170.80 L223.10,170.80 L223.35,170.80 L223.60,170.80 L223.85,170.80 L224.10,170.80 L224.35,170.80 L224.60,170.80 L224.85,170.80 L225.10,170.80 L225.35,170.80 L225.60,170.80 L225.85,170.80 L226.10,170.80 L226.35,170.80 L226.60,170.79 L226.85,170.79 L227.10,170.79 L227.35,170.79 L227.60,170.79 L227.85,170.78 L228.10,170.78 L228.35,170.78 L228.60,170.77 L228.85,170.77 L229.10,170.76 L229.35,170.75 L229.60,170.74 L229.85,170.73 L230.10,170.71 L230.35,170.69 L230.60,170.67 L230.85,170.64 L231.10,170.61 L231.35,170.58 L231.60,170.54 L231.85,170.49 L232.10,170.43 L232.35,170.37 L232.60,170.29 L232.85,170.20 L233.10,170.10 L233.35,169.98 L233.60,169.84 L233.85,169.68 L234.10,169.50 L234.35,169.30 L234.60,169.06 L234.85,168.80 L235.10,168.50 L235.35,168.17 L235.60,167.79 L235.85,167.36 L236.10,166.89 L236.35,166.37 L236.60,165.78 L236.85,165.14 L237.10,164.43 L237.35,163.65 L237.60,162.80 L237.85,161.86 L238.10,160.85 L238.35,159.76 L238.60,158.58 L238.85,157.32 L239.10,155.97 L239.35,154.53 L239.60,153.01 L239.85,151.40 L240.10,149.72 L240.35,147.96 L240.60,146.13 L240.85,144.25 L241.10,142.32 L241.35,140.35 L241.60,138.36 L241.85,136.36 L242.10,134.38 L242.35,132.42 L242.60,130.52 L242.85,128.70 L243.10,126.98 L243.35,125.39 L243.60,123.96 L243.85,122.73 L244.10,121.74 L244.35,121.03 L244.60,120.71 L244.85,120.97 L245.10,121.59 L245.35,122.49 L245.60,123.63 L245.85,124.98 L246.10,126.51 L246.35,128.19 L246.60,129.99 L246.85,131.88 L247.10,133.84 L247.35,135.85 L247.60,137.88 L247.85,139.91 L248.10,141.94 L248.35,143.93 L248.60,145.88 L248.85,147.78 L249.10,149.61 L249.35,151.36 L249.60,153.03 L249.85,154.62 L250.10,156.11 L250.35,157.52 L250.60,158.83 L250.85,160.04 L251.10,161.17 L251.35,162.21 L251.60,163.16 L251.85,164.03 L252.10,164.81 L252.35,165.53 L252.60,166.17 L252.85,166.75 L253.10,167.27 L253.35,167.73 L253.60,168.13 L253.85,168.50 L254.10,168.81 L254.35,169.09 L254.60,169.34 L254.85,169.55 L255.10,169.74 L255.35,169.90 L255.60,170.04 L255.85,170.16 L256.10,170.26 L256.35,170.35 L256.60,170.42 L256.85,170.48 L257.10,170.54 L257.35,170.58 L257.60,170.62 L257.85,170.65 L258.10,170.68 L258.35,170.70 L258.60,170.72 L258.85,170.73 L259.10,170.75 L259.35,170.76 L259.60,170.76 L259.85,170.77 L260.10,170.78 L260.35,170.78 L260.60,170.79 L260.85,170.79 L261.10,170.79 L261.35,170.79 L261.60,170.79 L261.85,170.80 L262.10,170.80 L262.35,170.80 L262.60,170.80 L262.85,170.80 L263.10,170.80 L263.35,170.80 L263.60,170.80 L263.85,170.80 L264.10,170.80 L264.35,170.80 L264.60,170.80 L264.85,170.80 L265.10,170.80 L265.35,170.80 L265.60,170.80 L265.85,170.80 L266.10,170.80 L266.35,170.80 L266.60,170.80 L266.85,170.80 L267.10,170.80 L267.35,170.80 L267.60,170.80 L267.85,170.80 L268.10,170.80 L268.35,170.80 L268.60,170.80 L268.85,170.80 L269.10,170.80 L269.35,170.80 L269.60,170.80 L269.85,170.80 L270.10,170.80 L270.35,170.80 L270.60,170.80 L270.85,170.80 L271.10,170.80 L271.35,170.80 L271.60,170.80 L271.85,170.80 L272.10,170.80 L272.35,170.80 L272.60,170.80 L272.85,170.80" fill="none" stroke="#333333" stroke-width="0.5" stroke-linejoin="round"/>
<rect x="219.60" y="117.35" width="53.90" height="53.75" fill="none" stroke="#a2a2a2" stroke-width="1"/>
<line x1="218.30" y1="170.80" x2="219.60" y2="170.80" stroke="#666" stroke-width="0.6"/>
<text x="218.10" y="172.30" font-size="2.7" fill="#555" stroke="#555" stroke-width="0.08" text-anchor="end" textLength="1.3" lengthAdjust="spacingAndGlyphs">0</text>
<line x1="218.30" y1="160.63" x2="219.60" y2="160.63" stroke="#666" stroke-width="0.6"/>
<text x="218.10" y="162.13" font-size="2.7" fill="#555" stroke="#555" stroke-width="0.08" text-anchor="end" textLength="2.6" lengthAdjust="spacingAndGlyphs">20</text>
<line x1="218.30" y1="150.46" x2="219.60" y2="150.46" stroke="#666" stroke-width="0.6"/>
<text x="218.10" y="151.96" font-size="2.7" fill="#555" stroke="#555" stroke-width="0.08" text-anchor="end" textLength="2.6" lengthAdjust="spacingAndGlyphs">40</text>
<line x1="218.30" y1="140.29" x2="219.60" y2="140.29" stroke="#666" stroke-width="0.6"/>
<text x="218.10" y="141.79" font-size="2.7" fill="#555" stroke="#555" stroke-width="0.08" text-anchor="end" textLength="2.6" lengthAdjust="spacingAndGlyphs">60</text>
<line x1="218.30" y1="130.12" x2="219.60" y2="130.12" stroke="#666" stroke-width="0.6"/>
<text x="218.10" y="131.62" font-size="2.7" fill="#555" stroke="#555" stroke-width="0.08" text-anchor="end" textLength="2.6" lengthAdjust="spacingAndGlyphs">80</text>
<line x1="218.30" y1="119.95" x2="219.60" y2="119.95" stroke="#666" stroke-width="0.6"/>
<text x="218.10" y="121.45" font-size="2.7" fill="#555" stroke="#555" stroke-width="0.08" text-anchor="end" textLength="3.9" lengthAdjust="spacingAndGlyphs">100</text>
<text transform="translate(212.60,144.72) rotate(-90)" font-size="2.6" fill="#555" text-anchor="middle">% of Max</text>
<line x1="224.99" y1="171.10" x2="224.99" y2="172.30" stroke="#666" stroke-width="0.6"/>
<text x="224.99" y="176.50" font-size="2.6" fill="#666" text-anchor="middle">0</text>
<line x1="230.92" y1="171.10" x2="230.92" y2="172.30" stroke="#666" stroke-width="0.6"/>
<text x="230.92" y="176.50" font-size="2.6" fill="#666" text-anchor="middle">10¹</text>
<line x1="244.39" y1="171.10" x2="244.39" y2="172.30" stroke="#666" stroke-width="0.6"/>
<text x="244.39" y="176.50" font-size="2.6" fill="#666" text-anchor="middle">10²</text>
<line x1="256.25" y1="171.10" x2="256.25" y2="172.30" stroke="#666" stroke-width="0.6"/>
<text x="256.25" y="176.50" font-size="2.6" fill="#666" text-anchor="middle">10³</text>
<line x1="268.11" y1="171.10" x2="268.11" y2="172.30" stroke="#666" stroke-width="0.6"/>
<text x="268.11" y="176.50" font-size="2.6" fill="#666" text-anchor="middle">10⁴</text>
<text x="244.93" y="179.60" font-size="2.7" fill="#777" text-anchor="middle">PE-A</text>
</g>
<path d="M153.60,89.42 L159.20,88.91 L163.10,88.56 L166.30,86.00 L168.60,82.94 L170.90,77.32 L172.50,71.71 L174.10,64.56 L174.80,56.90 L175.60,52.31 L176.70,48.23 L177.60,45.67 L178.40,44.65 L179.50,46.69 L180.30,49.76 L181.40,55.37 L182.60,63.03 L183.90,72.22 L185.00,80.39 L186.10,86.51 L187.30,90.60 L188.90,92.64 L190.00,93.15" fill="none" stroke="#333333" stroke-width="0.75" stroke-linejoin="round"/>
<path d="M154.90,120.20 L156.50,122.73 L158.90,126.78 L161.30,130.83 L162.90,128.30 L164.20,126.78 L165.30,129.31 L166.90,124.25 L168.20,121.72 L169.40,125.26 L170.20,130.83 L171.00,143.98 L171.80,155.62 L172.60,163.72 L173.90,167.76 L175.80,169.28 L179.00,170.29 L185.00,170.80" fill="none" stroke="#333333" stroke-width="0.7" stroke-linejoin="round"/>
<text x="34.4" y="27.3" font-size="13.3" fill="#000" stroke="#000" stroke-width="0.15">REH</text>
<text x="95.4" y="27.3" font-size="13.3" fill="#000" stroke="#000" stroke-width="0.15">SEM</text>
<text x="148.3" y="27.3" font-size="13.3" fill="#000" stroke="#000" stroke-width="0.15">NALM6-GL</text>
<text x="19.0" y="113.9" font-size="13.3" fill="#000" stroke="#000" stroke-width="0.15">KOPN-8</text>
<text x="103.4" y="114.2" font-size="13.3" fill="#000" stroke="#000" stroke-width="0.15">DAUDI</text>
<text x="170.4" y="114.2" font-size="13.3" fill="#000" stroke="#000" stroke-width="0.15">RAJI</text>
<text x="235.1" y="111.0" font-size="13.3" fill="#000" stroke="#000" stroke-width="0.15">K562</text>
<rect x="229" y="43.2" width="10.3" height="8.6" fill="#777" stroke="#222" stroke-width="1"/>
<rect x="229" y="56.3" width="10.3" height="8.5" fill="#000" stroke="#222" stroke-width="1"/>
<rect x="229" y="69.5" width="10.3" height="8.8" fill="#fff" stroke="#444" stroke-width="1"/>
<text x="242.9" y="52.7" font-size="9" fill="#111" stroke="#111" stroke-width="0.2">CD19</text>
<text x="242.9" y="63.4" font-size="9" fill="#111" stroke="#111" stroke-width="0.2">CD22</text>
<text x="242.9" y="74.1" font-size="9" fill="#111" stroke="#111" stroke-width="0.2">Unstained</text>
<text x="1.2" y="11.6" font-size="14" font-weight="bold" fill="#000">A</text>
<text x="1.6" y="199.7" font-size="14" font-weight="bold" fill="#000">B</text>
<text x="297.2" y="71.7" font-size="14" font-weight="bold" fill="#000">C</text>
<line x1="55.00" y1="197.2" x2="55.00" y2="263.2" stroke="#1a1a1a" stroke-width="1.4"/>
<line x1="55.00" y1="273.1" x2="55.00" y2="321.20" stroke="#1a1a1a" stroke-width="1.4"/>
<line x1="52.00" y1="262.80" x2="55.00" y2="262.80" stroke="#111" stroke-width="1.1"/>
<text x="51.60" y="265.80" font-size="8.3" fill="#1a1a1a" stroke="#1a1a1a" stroke-width="0.15" text-anchor="end">50000</text>
<line x1="52.00" y1="241.03" x2="55.00" y2="241.03" stroke="#111" stroke-width="1.1"/>
<text x="51.60" y="244.03" font-size="8.3" fill="#1a1a1a" stroke="#1a1a1a" stroke-width="0.15" text-anchor="end">60000</text>
<line x1="52.00" y1="219.27" x2="55.00" y2="219.27" stroke="#111" stroke-width="1.1"/>
<text x="51.60" y="222.27" font-size="8.3" fill="#1a1a1a" stroke="#1a1a1a" stroke-width="0.15" text-anchor="end">70000</text>
<line x1="52.00" y1="197.50" x2="55.00" y2="197.50" stroke="#111" stroke-width="1.1"/>
<text x="51.60" y="200.50" font-size="8.3" fill="#1a1a1a" stroke="#1a1a1a" stroke-width="0.15" text-anchor="end">80000</text>
<line x1="52.00" y1="321.20" x2="55.00" y2="321.20" stroke="#111" stroke-width="1.1"/>
<text x="51.60" y="324.20" font-size="8.3" fill="#1a1a1a" stroke="#1a1a1a" stroke-width="0.15" text-anchor="end">0</text>
<line x1="52.00" y1="309.27" x2="55.00" y2="309.27" stroke="#111" stroke-width="1.1"/>
<text x="51.60" y="312.27" font-size="8.3" fill="#1a1a1a" stroke="#1a1a1a" stroke-width="0.15" text-anchor="end">5000</text>
<line x1="52.00" y1="297.35" x2="55.00" y2="297.35" stroke="#111" stroke-width="1.1"/>
<text x="51.60" y="300.35" font-size="8.3" fill="#1a1a1a" stroke="#1a1a1a" stroke-width="0.15" text-anchor="end">10000</text>
<line x1="52.00" y1="285.43" x2="55.00" y2="285.43" stroke="#111" stroke-width="1.1"/>
<text x="51.60" y="288.43" font-size="8.3" fill="#1a1a1a" stroke="#1a1a1a" stroke-width="0.15" text-anchor="end">15000</text>
<line x1="52.00" y1="273.50" x2="55.00" y2="273.50" stroke="#111" stroke-width="1.1"/>
<text x="51.60" y="276.50" font-size="8.3" fill="#1a1a1a" stroke="#1a1a1a" stroke-width="0.15" text-anchor="end">20000</text>
<line x1="54.40" y1="321.20" x2="275.8" y2="321.20" stroke="#111" stroke-width="1.3"/>
<line x1="62.60" y1="321.20" x2="62.60" y2="324.20" stroke="#111" stroke-width="1"/>
<rect x="57.60" y="283.50" width="10.00" height="37.70" fill="#6d6d6d" stroke="#000" stroke-width="1.1"/>
<text transform="translate(64.50,332.40) rotate(-45)" font-size="8.4" fill="#1a1a1a" stroke="#1a1a1a" stroke-width="0.14" text-anchor="end">REH CD19</text>
<line x1="78.45" y1="321.20" x2="78.45" y2="324.20" stroke="#111" stroke-width="1"/>
<rect x="73.45" y="274.00" width="10.00" height="47.20" fill="#6d6d6d" stroke="#000" stroke-width="1.1"/>
<rect x="73.45" y="247.50" width="10.00" height="15.00" fill="#6d6d6d" stroke="#000" stroke-width="1.1"/>
<text transform="translate(80.35,332.40) rotate(-45)" font-size="8.4" fill="#1a1a1a" stroke="#1a1a1a" stroke-width="0.14" text-anchor="end">SEM CD19</text>
<line x1="94.30" y1="321.20" x2="94.30" y2="324.20" stroke="#111" stroke-width="1"/>
<rect x="89.30" y="274.00" width="10.00" height="47.20" fill="#6d6d6d" stroke="#000" stroke-width="1.1"/>
<rect x="89.30" y="251.50" width="10.00" height="11.00" fill="#6d6d6d" stroke="#000" stroke-width="1.1"/>
<text transform="translate(96.20,332.40) rotate(-45)" font-size="8.4" fill="#1a1a1a" stroke="#1a1a1a" stroke-width="0.14" text-anchor="end">NALM-6 CD19</text>
<line x1="110.15" y1="321.20" x2="110.15" y2="324.20" stroke="#111" stroke-width="1"/>
<rect x="105.15" y="274.00" width="10.00" height="47.20" fill="#6d6d6d" stroke="#000" stroke-width="1.1"/>
<rect x="105.15" y="226.50" width="10.00" height="36.00" fill="#6d6d6d" stroke="#000" stroke-width="1.1"/>
<text transform="translate(112.05,332.40) rotate(-45)" font-size="8.4" fill="#1a1a1a" stroke="#1a1a1a" stroke-width="0.14" text-anchor="end">KOPN8 CD19</text>
<line x1="126.00" y1="321.20" x2="126.00" y2="324.20" stroke="#111" stroke-width="1"/>
<rect x="121.00" y="287.50" width="10.00" height="33.70" fill="#6d6d6d" stroke="#000" stroke-width="1.1"/>
<text transform="translate(127.90,332.40) rotate(-45)" font-size="8.4" fill="#1a1a1a" stroke="#1a1a1a" stroke-width="0.14" text-anchor="end">DAUDI CD19</text>
<line x1="141.85" y1="321.20" x2="141.85" y2="324.20" stroke="#111" stroke-width="1"/>
<rect x="136.85" y="274.00" width="10.00" height="47.20" fill="#6d6d6d" stroke="#000" stroke-width="1.1"/>
<line x1="136.35" y1="262.5" x2="147.35" y2="262.5" stroke="#000" stroke-width="1.2"/>
<text transform="translate(143.75,332.40) rotate(-45)" font-size="8.4" fill="#1a1a1a" stroke="#1a1a1a" stroke-width="0.14" text-anchor="end">RAJI CD19</text>
<line x1="157.70" y1="321.20" x2="157.70" y2="324.20" stroke="#111" stroke-width="1"/>
<line x1="152.20" y1="320.30" x2="163.20" y2="320.30" stroke="#000" stroke-width="1.4"/>
<text transform="translate(159.60,332.40) rotate(-45)" font-size="8.4" fill="#1a1a1a" stroke="#1a1a1a" stroke-width="0.14" text-anchor="end">K562 CD19</text>
<line x1="173.55" y1="321.20" x2="173.55" y2="324.20" stroke="#111" stroke-width="1"/>
<rect x="168.55" y="305.50" width="10.00" height="15.70" fill="#000" stroke="#000" stroke-width="1.1"/>
<text transform="translate(175.45,332.40) rotate(-45)" font-size="8.4" fill="#1a1a1a" stroke="#1a1a1a" stroke-width="0.14" text-anchor="end">REH CD22</text>
<line x1="189.40" y1="321.20" x2="189.40" y2="324.20" stroke="#111" stroke-width="1"/>
<rect x="184.40" y="305.50" width="10.00" height="15.70" fill="#000" stroke="#000" stroke-width="1.1"/>
<text transform="translate(191.30,332.40) rotate(-45)" font-size="8.4" fill="#1a1a1a" stroke="#1a1a1a" stroke-width="0.14" text-anchor="end">SEM CD22</text>
<line x1="205.25" y1="321.20" x2="205.25" y2="324.20" stroke="#111" stroke-width="1"/>
<rect x="200.25" y="300.50" width="10.00" height="20.70" fill="#000" stroke="#000" stroke-width="1.1"/>
<text transform="translate(207.15,332.40) rotate(-45)" font-size="8.4" fill="#1a1a1a" stroke="#1a1a1a" stroke-width="0.14" text-anchor="end">NALM-6 CD22</text>
<line x1="221.10" y1="321.20" x2="221.10" y2="324.20" stroke="#111" stroke-width="1"/>
<rect x="216.10" y="281.50" width="10.00" height="39.70" fill="#000" stroke="#000" stroke-width="1.1"/>
<text transform="translate(223.00,332.40) rotate(-45)" font-size="8.4" fill="#1a1a1a" stroke="#1a1a1a" stroke-width="0.14" text-anchor="end">KOPN8 CD22</text>
<line x1="236.95" y1="321.20" x2="236.95" y2="324.20" stroke="#111" stroke-width="1"/>
<rect x="231.95" y="299.50" width="10.00" height="21.70" fill="#000" stroke="#000" stroke-width="1.1"/>
<text transform="translate(238.85,332.40) rotate(-45)" font-size="8.4" fill="#1a1a1a" stroke="#1a1a1a" stroke-width="0.14" text-anchor="end">DAUDI CD22</text>
<line x1="252.80" y1="321.20" x2="252.80" y2="324.20" stroke="#111" stroke-width="1"/>
<rect x="247.80" y="274.00" width="10.00" height="47.20" fill="#000" stroke="#000" stroke-width="1.1"/>
<rect x="247.80" y="251.50" width="10.00" height="11.00" fill="#000" stroke="#000" stroke-width="1.1"/>
<text transform="translate(254.70,332.40) rotate(-45)" font-size="8.4" fill="#1a1a1a" stroke="#1a1a1a" stroke-width="0.14" text-anchor="end">RAJI CD22</text>
<line x1="268.65" y1="321.20" x2="268.65" y2="324.20" stroke="#111" stroke-width="1"/>
<line x1="263.15" y1="320.30" x2="274.15" y2="320.30" stroke="#000" stroke-width="1.4"/>
<text transform="translate(270.55,332.40) rotate(-45)" font-size="8.4" fill="#1a1a1a" stroke="#1a1a1a" stroke-width="0.14" text-anchor="end">K562 CD22</text>
<text transform="translate(20.8,258.4) rotate(-90)" font-size="7.8" fill="#1a1a1a" stroke="#1a1a1a" stroke-width="0.12" text-anchor="middle">Receptors per cell</text>
<rect x="158.6" y="199.4" width="12.6" height="12" fill="#6f6f6f" stroke="#000" stroke-width="1.2"/>
<rect x="158.6" y="216.7" width="12.6" height="12" fill="#000" stroke="#000" stroke-width="1.2"/>
<text x="177.6" y="212.3" font-size="10.3" fill="#111" stroke="#111" stroke-width="0.2">CD19</text>
<text x="177.6" y="224.7" font-size="10.3" fill="#111" stroke="#111" stroke-width="0.2">CD22</text>
<line x1="325.85" y1="82.2" x2="325.85" y2="271" stroke="#2a2a2a" stroke-width="1.1"/>
<line x1="325.35" y1="270.55" x2="518" y2="270.55" stroke="#1a1a1a" stroke-width="1.1"/>
<line x1="323.25" y1="270.40" x2="325.85" y2="270.40" stroke="#222" stroke-width="0.9"/>
<text x="323.10" y="272.80" font-size="4.9" fill="#3a3a3a" text-anchor="end" textLength="6.6" lengthAdjust="spacingAndGlyphs">100</text>
<line x1="323.25" y1="207.70" x2="325.85" y2="207.70" stroke="#222" stroke-width="0.9"/>
<text x="323.10" y="210.10" font-size="4.9" fill="#3a3a3a" text-anchor="end" textLength="9.0" lengthAdjust="spacingAndGlyphs">1000</text>
<line x1="323.25" y1="145.00" x2="325.85" y2="145.00" stroke="#222" stroke-width="0.9"/>
<text x="323.10" y="147.40" font-size="4.9" fill="#3a3a3a" text-anchor="end" textLength="11.4" lengthAdjust="spacingAndGlyphs">10000</text>
<line x1="323.25" y1="82.30" x2="325.85" y2="82.30" stroke="#222" stroke-width="0.9"/>
<text x="323.10" y="84.70" font-size="4.9" fill="#3a3a3a" text-anchor="end" textLength="14.3" lengthAdjust="spacingAndGlyphs">100000</text>
<text transform="translate(295.2,176.4) rotate(-90)" font-size="7.85" fill="#1a1a1a" stroke="#1a1a1a" stroke-width="0.1" text-anchor="middle">CD22 Site Density</text>
<line x1="362" y1="173.8" x2="509" y2="173.8" stroke="#5a5a5a" stroke-width="1.4"/>
<text x="475" y="170.2" font-size="7.2" fill="#222" stroke="#222" stroke-width="0.1" textLength="41.5" lengthAdjust="spacingAndGlyphs">Median=3,500</text>
<circle cx="439.25" cy="127.20" r="1.32" fill="#000"/>
<circle cx="435.60" cy="130.20" r="1.32" fill="#000"/>
<circle cx="435.60" cy="137.90" r="1.32" fill="#000"/>
<circle cx="428.30" cy="144.20" r="1.32" fill="#000"/>
<circle cx="431.95" cy="145.60" r="1.32" fill="#000"/>
<circle cx="435.60" cy="147.50" r="1.32" fill="#000"/>
<circle cx="439.25" cy="147.10" r="1.32" fill="#000"/>
<circle cx="442.90" cy="145.40" r="1.32" fill="#000"/>
<circle cx="424.65" cy="151.30" r="1.32" fill="#000"/>
<circle cx="424.65" cy="153.70" r="1.32" fill="#000"/>
<circle cx="428.30" cy="152.50" r="1.32" fill="#000"/>
<circle cx="428.30" cy="155.40" r="1.32" fill="#000"/>
<circle cx="431.95" cy="153.10" r="1.32" fill="#000"/>
<circle cx="431.95" cy="156.20" r="1.32" fill="#000"/>
<circle cx="435.60" cy="154.00" r="1.32" fill="#000"/>
<circle cx="439.25" cy="152.80" r="1.32" fill="#000"/>
<circle cx="439.25" cy="156.50" r="1.32" fill="#000"/>
<circle cx="442.90" cy="151.90" r="1.32" fill="#000"/>
<circle cx="442.90" cy="155.60" r="1.32" fill="#000"/>
<circle cx="446.55" cy="150.80" r="1.32" fill="#000"/>
<circle cx="446.55" cy="154.80" r="1.32" fill="#000"/>
<circle cx="421.00" cy="159.40" r="1.32" fill="#000"/>
<circle cx="424.65" cy="159.80" r="1.32" fill="#000"/>
<circle cx="428.30" cy="160.60" r="1.32" fill="#000"/>
<circle cx="431.95" cy="161.70" r="1.32" fill="#000"/>
<circle cx="435.60" cy="158.30" r="1.32" fill="#000"/>
<circle cx="439.25" cy="160.90" r="1.32" fill="#000"/>
<circle cx="442.90" cy="159.80" r="1.32" fill="#000"/>
<circle cx="446.55" cy="159.40" r="1.32" fill="#000"/>
<circle cx="450.20" cy="158.80" r="1.32" fill="#000"/>
<circle cx="435.60" cy="162.30" r="1.32" fill="#000"/>
<circle cx="421.00" cy="163.20" r="1.32" fill="#000"/>
<circle cx="424.65" cy="164.60" r="1.32" fill="#000"/>
<circle cx="428.30" cy="165.20" r="1.32" fill="#000"/>
<circle cx="431.95" cy="165.80" r="1.32" fill="#000"/>
<circle cx="435.60" cy="166.30" r="1.32" fill="#000"/>
<circle cx="439.25" cy="166.30" r="1.32" fill="#000"/>
<circle cx="442.90" cy="165.50" r="1.32" fill="#000"/>
<circle cx="446.55" cy="164.80" r="1.32" fill="#000"/>
<circle cx="450.20" cy="164.00" r="1.32" fill="#000"/>
<circle cx="453.85" cy="162.90" r="1.32" fill="#000"/>
<circle cx="421.00" cy="168.10" r="1.32" fill="#000"/>
<circle cx="424.65" cy="168.70" r="1.32" fill="#000"/>
<circle cx="428.30" cy="169.80" r="1.32" fill="#000"/>
<circle cx="431.95" cy="171.00" r="1.32" fill="#000"/>
<circle cx="435.60" cy="171.00" r="1.32" fill="#000"/>
<circle cx="439.25" cy="170.40" r="1.32" fill="#000"/>
<circle cx="442.90" cy="169.60" r="1.32" fill="#000"/>
<circle cx="446.55" cy="168.10" r="1.32" fill="#000"/>
<circle cx="450.20" cy="167.80" r="1.32" fill="#000"/>
<circle cx="417.35" cy="171.90" r="1.32" fill="#000"/>
<circle cx="421.00" cy="173.10" r="1.32" fill="#000"/>
<circle cx="424.65" cy="173.70" r="1.32" fill="#000"/>
<circle cx="428.30" cy="174.80" r="1.32" fill="#000"/>
<circle cx="431.95" cy="175.20" r="1.32" fill="#000"/>
<circle cx="435.60" cy="175.40" r="1.32" fill="#000"/>
<circle cx="439.25" cy="175.20" r="1.32" fill="#000"/>
<circle cx="442.90" cy="174.80" r="1.32" fill="#000"/>
<circle cx="446.55" cy="174.20" r="1.32" fill="#000"/>
<circle cx="450.20" cy="173.30" r="1.32" fill="#000"/>
<circle cx="453.85" cy="172.50" r="1.32" fill="#000"/>
<circle cx="457.50" cy="172.20" r="1.32" fill="#000"/>
<circle cx="421.00" cy="177.10" r="1.32" fill="#000"/>
<circle cx="424.65" cy="177.70" r="1.32" fill="#000"/>
<circle cx="428.30" cy="178.60" r="1.32" fill="#000"/>
<circle cx="431.95" cy="179.80" r="1.32" fill="#000"/>
<circle cx="435.60" cy="180.00" r="1.32" fill="#000"/>
<circle cx="439.25" cy="179.10" r="1.32" fill="#000"/>
<circle cx="442.90" cy="178.30" r="1.32" fill="#000"/>
<circle cx="446.55" cy="177.70" r="1.32" fill="#000"/>
<circle cx="450.20" cy="176.50" r="1.32" fill="#000"/>
<circle cx="424.65" cy="182.10" r="1.32" fill="#000"/>
<circle cx="428.30" cy="182.50" r="1.32" fill="#000"/>
<circle cx="431.95" cy="184.00" r="1.32" fill="#000"/>
<circle cx="435.60" cy="184.80" r="1.32" fill="#000"/>
<circle cx="439.25" cy="185.20" r="1.32" fill="#000"/>
<circle cx="442.90" cy="183.20" r="1.32" fill="#000"/>
<circle cx="446.55" cy="182.10" r="1.32" fill="#000"/>
<circle cx="450.20" cy="181.50" r="1.32" fill="#000"/>
<circle cx="424.65" cy="186.70" r="1.32" fill="#000"/>
<circle cx="428.30" cy="188.20" r="1.32" fill="#000"/>
<circle cx="428.30" cy="190.50" r="1.32" fill="#000"/>
<circle cx="431.95" cy="189.00" r="1.32" fill="#000"/>
<circle cx="431.95" cy="191.30" r="1.32" fill="#000"/>
<circle cx="435.60" cy="190.20" r="1.32" fill="#000"/>
<circle cx="439.25" cy="189.00" r="1.32" fill="#000"/>
<circle cx="442.90" cy="187.50" r="1.32" fill="#000"/>
<circle cx="442.90" cy="191.30" r="1.32" fill="#000"/>
<circle cx="446.55" cy="186.70" r="1.32" fill="#000"/>
<circle cx="446.55" cy="190.50" r="1.32" fill="#000"/>
<circle cx="435.60" cy="194.20" r="1.32" fill="#000"/>
<circle cx="439.25" cy="194.00" r="1.32" fill="#000"/>
<circle cx="442.90" cy="196.30" r="1.32" fill="#000"/>
<circle cx="428.30" cy="197.70" r="1.32" fill="#000"/>
<circle cx="431.95" cy="199.10" r="1.32" fill="#000"/>
<circle cx="435.60" cy="199.80" r="1.32" fill="#000"/>
<circle cx="439.25" cy="198.60" r="1.32" fill="#000"/>
<circle cx="431.95" cy="203.20" r="1.32" fill="#000"/>
<circle cx="439.25" cy="203.50" r="1.32" fill="#000"/>
<circle cx="435.60" cy="206.30" r="1.32" fill="#000"/>
<circle cx="431.95" cy="208.60" r="1.32" fill="#000"/>
<circle cx="435.60" cy="211.00" r="1.32" fill="#000"/>
<circle cx="431.95" cy="215.20" r="1.32" fill="#000"/>
<circle cx="435.60" cy="215.20" r="1.32" fill="#000"/>
<circle cx="439.25" cy="215.20" r="1.32" fill="#000"/>
<circle cx="442.90" cy="215.00" r="1.32" fill="#000"/>
<circle cx="439.25" cy="222.50" r="1.32" fill="#000"/>
<circle cx="431.95" cy="224.80" r="1.32" fill="#000"/>
<circle cx="435.60" cy="226.00" r="1.32" fill="#000"/>
<circle cx="439.25" cy="229.60" r="1.32" fill="#000"/>
<circle cx="435.60" cy="231.80" r="1.32" fill="#000"/>
</svg>
</body></html>
